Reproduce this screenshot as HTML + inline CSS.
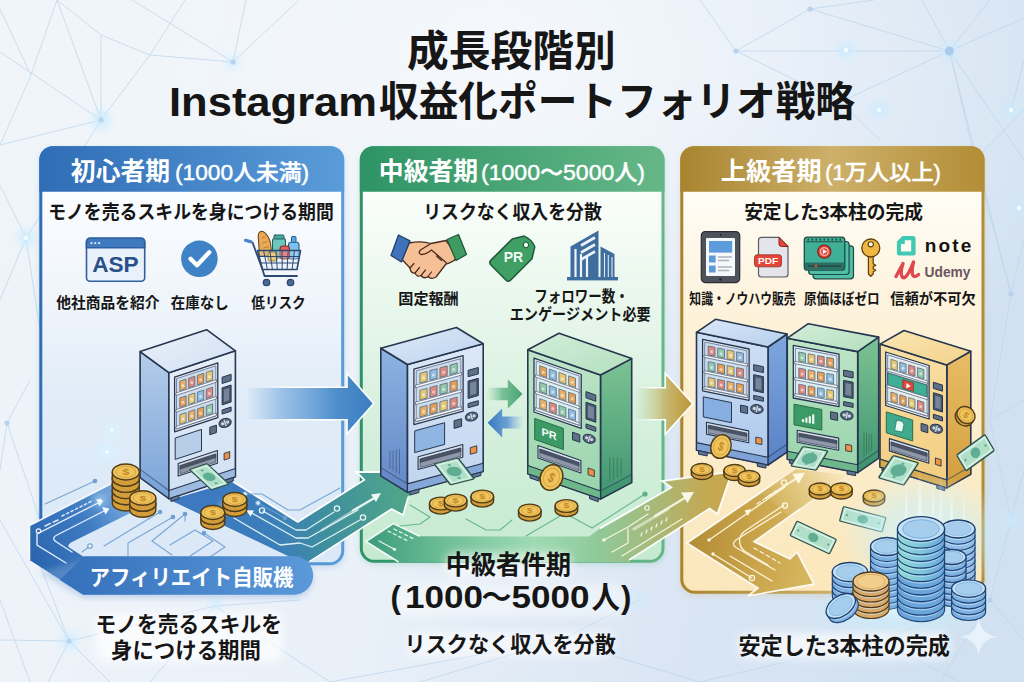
<!DOCTYPE html>
<html lang="ja"><head><meta charset="utf-8"><title>成長段階別 Instagram収益化ポートフォリオ戦略</title>
<style>
html,body{margin:0;padding:0;background:#e9f1f9;}
body{width:1024px;height:682px;overflow:hidden;font-family:"Liberation Sans","Noto Sans CJK JP",sans-serif;}
svg{display:block}
text{font-family:"Liberation Sans","Noto Sans CJK JP",sans-serif}
</style></head><body>
<svg width="1024" height="682" viewBox="0 0 1024 682">
<defs>
<linearGradient id="bg" x1="0" y1="0.2" x2="1" y2="0.35">
<stop offset="0" stop-color="#eff4f9"/><stop offset="0.45" stop-color="#e9f0f8"/><stop offset="0.75" stop-color="#dae6f4"/><stop offset="1" stop-color="#d1e1f1"/></linearGradient>
<radialGradient id="bgc" cx="0.5" cy="0.1" r="0.6"><stop offset="0" stop-color="#f6f9fc" stop-opacity="0.9"/><stop offset="1" stop-color="#f6f9fc" stop-opacity="0"/></radialGradient>
<linearGradient id="h1" x1="0" x2="1"><stop offset="0" stop-color="#2f6db6"/><stop offset="1" stop-color="#5a9cd9"/></linearGradient>
<linearGradient id="h2" x1="0" x2="1"><stop offset="0" stop-color="#2e9465"/><stop offset="1" stop-color="#66b788"/></linearGradient>
<linearGradient id="h3" x1="0" x2="1"><stop offset="0" stop-color="#a8842f"/><stop offset="0.5" stop-color="#cdb06a"/><stop offset="1" stop-color="#b38d36"/></linearGradient>
<linearGradient id="b1" x1="0" y1="0" x2="0" y2="1"><stop offset="0.1" stop-color="#fbfdff"/><stop offset="0.4" stop-color="#eef4fb"/><stop offset="0.6" stop-color="#e0ecf8"/><stop offset="1" stop-color="#dbe8f7"/></linearGradient>
<linearGradient id="b2" x1="0" y1="0" x2="0" y2="1"><stop offset="0.1" stop-color="#fbfefb"/><stop offset="0.42" stop-color="#e6f6ea"/><stop offset="0.7" stop-color="#d3efdb"/><stop offset="1" stop-color="#c6ead1"/></linearGradient>
<linearGradient id="b3" x1="0" y1="0" x2="0" y2="1"><stop offset="0.1" stop-color="#fffdf6"/><stop offset="0.4" stop-color="#fdf1d8"/><stop offset="1" stop-color="#fbe7bb"/></linearGradient>
<filter id="sh" x="-10%" y="-10%" width="120%" height="120%"><feGaussianBlur stdDeviation="3"/></filter>
<filter id="glow" x="-50%" y="-50%" width="200%" height="200%"><feGaussianBlur stdDeviation="4"/></filter>
<filter id="tglow" x="-10%" y="-30%" width="120%" height="160%"><feGaussianBlur stdDeviation="2.5"/></filter>

<linearGradient id="rb1" gradientUnits="userSpaceOnUse" x1="30" y1="560" x2="135" y2="490"><stop offset="0" stop-color="#2a64ae" stop-opacity="1"/><stop offset="0.55" stop-color="#3f7cc2" stop-opacity="1"/><stop offset="0.85" stop-color="#6fa3da" stop-opacity="1"/><stop offset="1" stop-color="#a9c9ea" stop-opacity="0.7"/></linearGradient>
<linearGradient id="rb2" gradientUnits="userSpaceOnUse" x1="205" y1="500" x2="400" y2="480"><stop offset="0" stop-color="#3c79c1" stop-opacity="1"/><stop offset="0.35" stop-color="#3b7fb9" stop-opacity="1"/><stop offset="0.6" stop-color="#3f8f9e" stop-opacity="1"/><stop offset="1" stop-color="#4ea58a" stop-opacity="1"/></linearGradient>
<linearGradient id="pill" gradientUnits="userSpaceOnUse" x1="70" y1="0" x2="313" y2="0"><stop offset="0" stop-color="#3671bc" stop-opacity="1"/><stop offset="1" stop-color="#5c99d9" stop-opacity="1"/></linearGradient>
<linearGradient id="rb3" gradientUnits="userSpaceOnUse" x1="366" y1="0" x2="740" y2="0"><stop offset="0" stop-color="#3a9a7c" stop-opacity="1"/><stop offset="0.2" stop-color="#6cbd95" stop-opacity="1"/><stop offset="0.45" stop-color="#9ad8b0" stop-opacity="0.9"/><stop offset="0.62" stop-color="#8fc99a" stop-opacity="1"/><stop offset="0.78" stop-color="#a9b877" stop-opacity="1"/><stop offset="0.9" stop-color="#c2aa55" stop-opacity="1"/><stop offset="1" stop-color="#c9a548" stop-opacity="1"/></linearGradient>
<radialGradient id="rb4" gradientUnits="userSpaceOnUse" cx="690" cy="543" r="175"><stop offset="0" stop-color="#b48d37"/><stop offset="0.4" stop-color="#c9a44a"/><stop offset="0.75" stop-color="#d8b963"/><stop offset="1" stop-color="#e8cf8c"/></radialGradient>
<linearGradient id="rb4f" gradientUnits="userSpaceOnUse" x1="770" y1="520" x2="850" y2="468"><stop offset="0" stop-color="#fcecc8" stop-opacity="0"/><stop offset="0.6" stop-color="#fcecc8" stop-opacity="0.45"/><stop offset="1" stop-color="#fcecc8" stop-opacity="0.95"/></linearGradient>
<linearGradient id="rb4s" gradientUnits="userSpaceOnUse" x1="760" y1="500" x2="850" y2="470"><stop offset="0" stop-color="#fff" stop-opacity="0.9"/><stop offset="1" stop-color="#fff" stop-opacity="0"/></linearGradient>
<linearGradient id="ar1" gradientUnits="userSpaceOnUse" x1="246" y1="0" x2="373.7" y2="0"><stop offset="0" stop-color="#7fb0e0" stop-opacity="0"/><stop offset="0.3" stop-color="#7fb0e0" stop-opacity="0.75"/><stop offset="0.7" stop-color="#4f8fcc" stop-opacity="1"/><stop offset="1" stop-color="#3a7cbf" stop-opacity="1"/></linearGradient>
<linearGradient id="ar1w" gradientUnits="userSpaceOnUse" x1="246" y1="0" x2="373.7" y2="0"><stop offset="0" stop-color="#fff" stop-opacity="0"/><stop offset="0.35" stop-color="#fff" stop-opacity="1"/><stop offset="1" stop-color="#fff" stop-opacity="1"/></linearGradient>
<linearGradient id="ar2" gradientUnits="userSpaceOnUse" x1="634" y1="0" x2="692.7" y2="0"><stop offset="0" stop-color="#c3dcae" stop-opacity="0"/><stop offset="0.3" stop-color="#c9d3a0" stop-opacity="0.8"/><stop offset="0.55" stop-color="#c6b872" stop-opacity="1"/><stop offset="0.78" stop-color="#c2a54e" stop-opacity="1"/><stop offset="1" stop-color="#ba933b" stop-opacity="1"/></linearGradient>
<linearGradient id="ar2w" gradientUnits="userSpaceOnUse" x1="634" y1="0" x2="692.7" y2="0"><stop offset="0" stop-color="#fff" stop-opacity="0"/><stop offset="0.35" stop-color="#fff" stop-opacity="1"/><stop offset="1" stop-color="#fff" stop-opacity="1"/></linearGradient>
<linearGradient id="ar3" gradientUnits="userSpaceOnUse" x1="486" y1="0" x2="522.5" y2="0"><stop offset="0" stop-color="#8fd0a8" stop-opacity="0"/><stop offset="0.45" stop-color="#6dbb8d" stop-opacity="0.9"/><stop offset="1" stop-color="#46a372" stop-opacity="1"/></linearGradient>
<linearGradient id="ar3w" gradientUnits="userSpaceOnUse" x1="486" y1="0" x2="522.5" y2="0"><stop offset="0" stop-color="#fff" stop-opacity="0"/><stop offset="0.35" stop-color="#fff" stop-opacity="1"/><stop offset="1" stop-color="#fff" stop-opacity="1"/></linearGradient>
<linearGradient id="ar4" gradientUnits="userSpaceOnUse" x1="523.7" y1="0" x2="487.6" y2="0"><stop offset="0" stop-color="#8db8e6" stop-opacity="0"/><stop offset="0.45" stop-color="#5f97d2" stop-opacity="0.9"/><stop offset="1" stop-color="#3877c0" stop-opacity="1"/></linearGradient>
<linearGradient id="ms1" x1="0" y1="0" x2="0" y2="1"><stop offset="0" stop-color="#b4cdea"/><stop offset="1" stop-color="#7ba3d8"/></linearGradient>
<linearGradient id="mf1" x1="0" y1="0" x2="0" y2="1"><stop offset="0" stop-color="#e7eff8"/><stop offset="1" stop-color="#d0e0f3"/></linearGradient>
<linearGradient id="mt1" x1="0" y1="0" x2="1" y2="1"><stop offset="0" stop-color="#ecf2fa"/><stop offset="1" stop-color="#cfdff2"/></linearGradient>
<linearGradient id="ms2" x1="0" y1="0" x2="0" y2="1"><stop offset="0" stop-color="#8db3e2"/><stop offset="1" stop-color="#6487c6"/></linearGradient>
<linearGradient id="mf2" x1="0" y1="0" x2="0" y2="1"><stop offset="0" stop-color="#dce8f7"/><stop offset="1" stop-color="#c0d4ef"/></linearGradient>
<linearGradient id="mt2" x1="0" y1="0" x2="1" y2="1"><stop offset="0" stop-color="#dfeaf8"/><stop offset="1" stop-color="#bcd3ef"/></linearGradient>
<linearGradient id="ms3" x1="0" y1="0" x2="0" y2="1"><stop offset="0" stop-color="#7cc393"/><stop offset="1" stop-color="#3f9470"/></linearGradient>
<linearGradient id="mf3" x1="0" y1="0" x2="0" y2="1"><stop offset="0" stop-color="#bfe5c9"/><stop offset="1" stop-color="#98d3ab"/></linearGradient>
<linearGradient id="mt3" x1="0" y1="0" x2="1" y2="1"><stop offset="0" stop-color="#d3eed9"/><stop offset="1" stop-color="#b3dfbf"/></linearGradient>
<linearGradient id="ms4" x1="0" y1="0" x2="0" y2="1"><stop offset="0" stop-color="#7ea6de"/><stop offset="1" stop-color="#5882c6"/></linearGradient>
<linearGradient id="mf4" x1="0" y1="0" x2="0" y2="1"><stop offset="0" stop-color="#cfdff4"/><stop offset="1" stop-color="#adc8ec"/></linearGradient>
<linearGradient id="mt4" x1="0" y1="0" x2="1" y2="1"><stop offset="0" stop-color="#dbe8f7"/><stop offset="1" stop-color="#b5cfee"/></linearGradient>
<linearGradient id="ms5" x1="0" y1="0" x2="0" y2="1"><stop offset="0" stop-color="#7cc393"/><stop offset="1" stop-color="#3f9470"/></linearGradient>
<linearGradient id="mf5" x1="0" y1="0" x2="0" y2="1"><stop offset="0" stop-color="#bfe5c9"/><stop offset="1" stop-color="#98d3ab"/></linearGradient>
<linearGradient id="mt5" x1="0" y1="0" x2="1" y2="1"><stop offset="0" stop-color="#d3eed9"/><stop offset="1" stop-color="#b3dfbf"/></linearGradient>
<linearGradient id="ms6" x1="0" y1="0" x2="0" y2="1"><stop offset="0" stop-color="#e8bd66"/><stop offset="1" stop-color="#d39e3e"/></linearGradient>
<linearGradient id="mf6" x1="0" y1="0" x2="0" y2="1"><stop offset="0" stop-color="#f8dfa3"/><stop offset="1" stop-color="#f2cd80"/></linearGradient>
<linearGradient id="mt6" x1="0" y1="0" x2="1" y2="1"><stop offset="0" stop-color="#fbe6b4"/><stop offset="1" stop-color="#f3d28b"/></linearGradient>
<radialGradient id="cg" cx="0.5" cy="0.5" r="0.5"><stop offset="0" stop-color="#dff8ff" stop-opacity="0.95"/><stop offset="0.5" stop-color="#c8f0fb" stop-opacity="0.55"/><stop offset="1" stop-color="#c8f0fb" stop-opacity="0"/></radialGradient>
<linearGradient id="ray" x1="0" y1="0" x2="0" y2="1"><stop offset="0" stop-color="#fff" stop-opacity="0"/><stop offset="1" stop-color="#e8fbff" stop-opacity="0.85"/></linearGradient>
<linearGradient id="tealedge" x1="0" x2="1"><stop offset="0" stop-color="#93dcd2"/><stop offset="0.45" stop-color="#80c8dc"/><stop offset="1" stop-color="#6aa5dc"/></linearGradient>
</defs>
<rect width="1024" height="682" fill="url(#bg)"/>
<rect width="1024" height="682" fill="url(#bgc)"/>
<g stroke="#bdd5ec" stroke-width="1" opacity="0.75" fill="none">
<line x1="0" y1="52" x2="101" y2="120"/>
<line x1="101" y1="120" x2="57" y2="0"/>
<line x1="101" y1="120" x2="101" y2="35"/>
<line x1="101" y1="35" x2="150" y2="55"/>
<line x1="150" y1="55" x2="233" y2="62"/>
<line x1="150" y1="55" x2="185" y2="0"/>
<line x1="150" y1="55" x2="101" y2="120"/>
<line x1="233" y1="62" x2="132" y2="0"/>
<line x1="233" y1="62" x2="246" y2="0"/>
<line x1="233" y1="62" x2="299" y2="0"/>
<line x1="101" y1="120" x2="0" y2="145"/>
<line x1="101" y1="120" x2="26" y2="238"/>
<line x1="26" y1="238" x2="0" y2="185"/>
<line x1="26" y1="238" x2="0" y2="300"/>
<line x1="31" y1="75" x2="0" y2="9"/>
<line x1="57" y1="0" x2="31" y2="75"/>
<line x1="31" y1="75" x2="0" y2="145"/>
<line x1="101" y1="35" x2="57" y2="0"/>
<line x1="26" y1="238" x2="40" y2="330"/>
<line x1="949.5" y1="51" x2="736" y2="51"/>
<line x1="949.5" y1="51" x2="810" y2="9"/>
<line x1="810" y1="9" x2="736" y2="51"/>
<line x1="810" y1="9" x2="874" y2="0"/>
<line x1="949.5" y1="51" x2="840" y2="102"/>
<line x1="840" y1="102" x2="736" y2="51"/>
<line x1="949.5" y1="51" x2="922" y2="0"/>
<line x1="949.5" y1="51" x2="990" y2="0"/>
<line x1="949.5" y1="51" x2="1024" y2="18"/>
<line x1="949.5" y1="51" x2="1024" y2="160"/>
<line x1="949.5" y1="51" x2="1011" y2="294"/>
<line x1="949.5" y1="51" x2="975" y2="160"/>
<line x1="975" y1="160" x2="1024" y2="110"/>
<line x1="975" y1="160" x2="1011" y2="294"/>
<line x1="1011" y1="294" x2="1024" y2="240"/>
<line x1="736" y1="51" x2="700" y2="0"/>
<line x1="840" y1="102" x2="880" y2="140"/>
<line x1="1011" y1="110" x2="1024" y2="60"/>
<line x1="7" y1="423" x2="40" y2="520"/>
<line x1="7" y1="423" x2="0" y2="470"/>
<line x1="7" y1="423" x2="30" y2="380"/>
<line x1="69" y1="641" x2="0" y2="520"/>
<line x1="69" y1="641" x2="0" y2="640"/>
<line x1="69" y1="641" x2="48" y2="682"/>
<line x1="69" y1="641" x2="110" y2="682"/>
<line x1="69" y1="641" x2="215" y2="606"/>
<line x1="215" y1="606" x2="150" y2="682"/>
<line x1="215" y1="606" x2="330" y2="682"/>
<line x1="215" y1="606" x2="300" y2="600"/>
<line x1="0" y1="600" x2="30" y2="682"/>
<line x1="69" y1="641" x2="40" y2="565"/>
<line x1="1011" y1="520" x2="1024" y2="470"/>
<line x1="1011" y1="520" x2="990" y2="600"/>
<line x1="990" y1="600" x2="1024" y2="640"/>
<line x1="990" y1="600" x2="940" y2="682"/>
<line x1="990" y1="600" x2="880" y2="640"/>
<line x1="880" y1="640" x2="700" y2="682"/>
<line x1="880" y1="640" x2="960" y2="682"/>
<line x1="1011" y1="294" x2="990" y2="420"/>
<line x1="990" y1="420" x2="1024" y2="400"/>
<line x1="990" y1="420" x2="1011" y2="520"/>
<line x1="560" y1="640" x2="420" y2="682"/>
<line x1="560" y1="640" x2="700" y2="682"/>
<line x1="560" y1="640" x2="330" y2="682"/>
<line x1="560" y1="640" x2="640" y2="600"/>
</g>
<circle cx="101" cy="120" r="9" fill="#c9ecff" opacity="0.85" filter="url(#glow)"/>
<circle cx="233" cy="62" r="6" fill="#c9ecff" opacity="0.85" filter="url(#glow)"/>
<circle cx="26" cy="238" r="8" fill="#c9ecff" opacity="0.85" filter="url(#glow)"/>
<circle cx="949.5" cy="51" r="7" fill="#c9ecff" opacity="0.85" filter="url(#glow)"/>
<circle cx="846" cy="50" r="8" fill="#c9ecff" opacity="0.85" filter="url(#glow)"/>
<circle cx="879" cy="110" r="8" fill="#c9ecff" opacity="0.85" filter="url(#glow)"/>
<circle cx="1011" cy="110" r="7" fill="#c9ecff" opacity="0.85" filter="url(#glow)"/>
<circle cx="1019" cy="208" r="7" fill="#c9ecff" opacity="0.85" filter="url(#glow)"/>
<circle cx="69" cy="641" r="8" fill="#c9ecff" opacity="0.85" filter="url(#glow)"/>
<circle cx="215" cy="606" r="6" fill="#c9ecff" opacity="0.85" filter="url(#glow)"/>
<circle cx="1011" cy="520" r="7" fill="#c9ecff" opacity="0.85" filter="url(#glow)"/>
<circle cx="640" cy="600" r="5" fill="#c9ecff" opacity="0.85" filter="url(#glow)"/>
<circle cx="101" cy="120" r="2.6" fill="#b7d3ee"/>
<circle cx="233" cy="62" r="2.6" fill="#b7d3ee"/>
<circle cx="736" cy="51" r="2.6" fill="#b7d3ee"/>
<circle cx="810" cy="9" r="2.6" fill="#b7d3ee"/>
<circle cx="1011" cy="294" r="2.6" fill="#b7d3ee"/>
<circle cx="7" cy="423" r="2.6" fill="#b7d3ee"/>
<circle cx="69" cy="641" r="2.6" fill="#b7d3ee"/>
<circle cx="990" cy="600" r="2.6" fill="#b7d3ee"/>
<circle cx="949.5" cy="51" r="4.5" fill="#abcbec"/>
<circle cx="846" cy="50" r="2.2" fill="#f4fbff"/>
<circle cx="879" cy="110" r="2.2" fill="#f4fbff"/>
<circle cx="1011" cy="110" r="2.2" fill="#f4fbff"/>
<circle cx="1019" cy="208" r="2.2" fill="#f4fbff"/>
<circle cx="26" cy="238" r="2.2" fill="#f4fbff"/>
<rect x="39.8" y="148.8" width="303.9" height="418" rx="13" fill="#4f8bcc" opacity="0.25" filter="url(#sh)"/>
<rect x="40.8" y="147.8" width="301.9" height="416" rx="13" fill="url(#b1)" stroke="url(#h1)" stroke-width="3"/>
<path d="M39.35,191.8 v-31 a13,13 0 0 1 13,-14.45 h278.8 a13,13 0 0 1 13,14.45 v31 z" fill="url(#h1)"/>
<rect x="360.3" y="148.8" width="303.7" height="415.5" rx="13" fill="#58ab82" opacity="0.25" filter="url(#sh)"/>
<rect x="361.3" y="147.8" width="301.7" height="413.5" rx="13" fill="url(#b2)" stroke="url(#h2)" stroke-width="3"/>
<path d="M359.85,191.8 v-31 a13,13 0 0 1 13,-14.45 h278.6 a13,13 0 0 1 13,14.45 v31 z" fill="url(#h2)"/>
<rect x="680.8" y="148.8" width="303.2" height="446.5" rx="13" fill="#c9a34e" opacity="0.25" filter="url(#sh)"/>
<rect x="681.8" y="147.8" width="301.2" height="444.5" rx="13" fill="url(#b3)" stroke="url(#h3)" stroke-width="3"/>
<path d="M680.35,191.8 v-31 a13,13 0 0 1 13,-14.45 h278.1 a13,13 0 0 1 13,14.45 v31 z" fill="url(#h3)"/>
<path d="M29.5,525.5 L111.5,483.5 L150,498 L134.5,511 L71,542.5 Q66,545.5 70,548 L84,557 L130,557 L130,594.2 L83,594.2 L29.5,560 Z" fill="url(#rb1)"/>
<path d="M29.5,560 V525.5 L111.5,483.5" fill="none" stroke="#fff" stroke-width="1.6" opacity="0.9"/>
<path d="M170,500 L232.7,481.4 L297.8,521.9 L364.3,479.9 L356.4,472 L381,472 L420,478 L408.3,496.6 L403,515 L391.6,509 L309.4,561.7 L300,561.7 Z" fill="url(#rb2)"/>
<path d="M232.7,481.4 L297.8,521.9 L364.3,479.9 L356.4,472 L381,472" fill="none" stroke="#fff" stroke-width="1.8" stroke-linejoin="miter"/>
<path d="M408.3,496.6 L403,515 L391.6,509 L309.4,561.7" fill="none" stroke="#fff" stroke-width="1.6"/>
<g fill="none" stroke="#eaf4ff" stroke-width="1.4" stroke-linecap="round" opacity="0.95">
<path d="M66,563 L37,545 V534 L98,503"/>
<path d="M72,552 L55,541 Q52,538 56,535.5 L104,511"/>
<path d="M45,526 L58,520" stroke-dasharray="6 3"/><path d="M62,516 L92,501" stroke-dasharray="2.5 2.5"/>
</g>
<polygon points="96,499 103.5,500.5 99.5,506.5" fill="#f2f8ff"/><polygon points="102,507 109.5,508.5 105.5,514.5" fill="#f2f8ff"/>
<circle cx="38.5" cy="531" r="2.2" fill="none" stroke="#eaf4ff" stroke-width="1.2"/>
<g fill="none" stroke="#6f9fd0" stroke-width="1.1" stroke-linecap="round" stroke-linejoin="round" opacity="0.9">
<path d="M45,504 L95,481"/><path d="M82,552 L90,546"/>
<path d="M104,546 L160,512"/><path d="M128,557 V543 L173,517"/><path d="M152,541 L185,514 V521"/><path d="M152,541 L172,555"/>
<path d="M170,545 L195,530 L213,541 L190,556"/><path d="M210,557 L225,547 L204,533"/>
<path d="M245,494 H262 L288,510 H300 L340,488"/><path d="M258,503 L285,518"/>
</g>
<circle cx="95" cy="481" r="2.3" fill="#6f9fd0"/>
<circle cx="160" cy="512" r="2.3" fill="#6f9fd0"/>
<circle cx="173" cy="517" r="2.3" fill="#6f9fd0"/>
<circle cx="185" cy="514" r="2.3" fill="#6f9fd0"/>
<circle cx="204" cy="533" r="2.3" fill="#6f9fd0"/>
<circle cx="285" cy="518" r="2.3" fill="#6f9fd0"/>
<circle cx="90" cy="546" r="2.3" fill="#e6f0fb" stroke="#6f9fd0" stroke-width="1.1"/>
<circle cx="245" cy="494" r="2.3" fill="#e6f0fb" stroke="#6f9fd0" stroke-width="1.1"/>
<circle cx="258" cy="503" r="2.3" fill="#e6f0fb" stroke="#6f9fd0" stroke-width="1.1"/>
<g fill="none" stroke="#e8f6f4" stroke-width="1.3" stroke-linecap="round" stroke-linejoin="round" opacity="0.95">
<path d="M263,511 L296,530 H306 L334,512"/>
<path d="M250,512 L296,538 H308 L358,510"/>
<path d="M234,518 L280,545 L300,543 L312,547 L360,520"/>
<path d="M322,530 L376,497" stroke-width="2.6" opacity="0.55"/>
</g>
<polygon points="246,510 254,510.5 250.5,516.5" fill="#eef9f6"/>
<polygon points="381,493 371,494.5 376,502" fill="#eef9f6"/><path d="M352,511 L376,497" stroke="#eef9f6" stroke-width="2"/>
<circle cx="262" cy="510.5" r="2.6" fill="none" stroke="#e8f6f4" stroke-width="1.3"/>
<circle cx="337" cy="508.5" r="2.6" fill="none" stroke="#e8f6f4" stroke-width="1.3"/>
<circle cx="363" cy="517.5" r="2.6" fill="none" stroke="#e8f6f4" stroke-width="1.3"/>
<path d="M84,560 H294 a18.7,18.7 0 0 1 0,37.4 H83 L40,572 Z" fill="#7fa8d8" opacity="0.45" filter="url(#sh)"/>
<path d="M84,556.3 H294 a19.2,19.2 0 0 1 0,38.4 H83 L60,580 Z" fill="url(#pill)"/>
<path d="M366,541.5 L393.3,523.5 L419.7,536.2 L589,536.6 L600,528.4 L671.3,487.5 L662,481 L732,471.7 L717.5,514 L709.6,508.6 L629,560 L630,562 L398.6,562 Z" fill="url(#rb3)"/>
<path d="M600,528.4 L671.3,487.5 L662,481 L732,471.7 L717.5,514 L709.6,508.6 L629,560" fill="none" stroke="#fff" stroke-width="1.8" opacity="0.95"/>
<path d="M398.6,562 L366,541.5 L393.3,523.5 L419.7,536.2" fill="none" stroke="#fff" stroke-width="1.5" opacity="0.9"/>
<g fill="none" stroke="#5fb088" stroke-width="1.1" stroke-linecap="round" stroke-linejoin="round" opacity="0.9">
<path d="M410,505 L430,517 L420,524 L400,526"/><path d="M466,519 L486,530 H500 L512,520"/><path d="M526,536 L560,516"/><path d="M570,516 L592,528 L645,494"/>
</g>
<circle cx="645" cy="494" r="2.6" fill="#5fb088"/>
<g fill="none" stroke="#eafaf0" stroke-width="1.3" stroke-linecap="round" opacity="0.95">
<path d="M388,531 L408,541" stroke-dasharray="3 3"/><path d="M394,529 L414,539" stroke-dasharray="3 3"/><path d="M379,541 L394,549"/>
</g><circle cx="394.5" cy="549.3" r="1.6" fill="#eafaf0"/>
<g fill="none" stroke="#f6f7e6" stroke-width="1.3" stroke-linecap="round" stroke-linejoin="round" opacity="0.95">
<path d="M604,540 L628,527 L648,514"/><path d="M612,552 L628,543 V529"/><path d="M622,556 L682,519"/><path d="M634,529 L668,509" stroke-width="3" opacity="0.6"/>
<path d="M641,536 l1,-3 M646,533 l1,-3 M651,530 l1,-3 M656,527 l1,-3 M661,524 l1,-3 M666,521 l1,-3"/>
<path d="M655,516 L688,496" stroke-width="2.2"/>
</g>
<polygon points="694,492 681,492.5 687.5,503" fill="#f8f8ea"/>
<circle cx="604" cy="540" r="1.8" fill="#f6f7e6"/><circle cx="647" cy="508" r="2.2" fill="none" stroke="#f6f7e6" stroke-width="1.1"/>
<path d="M687,543 L795,469 L848,475 L754,541.6 L790,559 L797,552 L814,584 L748,596 L758,588 Z" fill="url(#rb4)"/>
<path d="M760,492 L795,468 L850,474 L790,517 Z" fill="url(#rb4f)"/>
<path d="M770,486 L687,543 L758,588 L748,596 L814,584 L797,552 L790,559 L754,541.6 L800,509" fill="none" stroke="#fff" stroke-width="1.7" opacity="0.9" stroke-linejoin="miter"/>
<path d="M770,486 L795,469 M800,509 L848,475" fill="none" stroke="url(#rb4s)" stroke-width="1.7"/>
<g fill="none" stroke="#fff8e4" stroke-width="1.3" stroke-linecap="round" stroke-linejoin="round" opacity="0.95">
<path d="M709,540 L785,487"/>
<path d="M713,554 L752,578"/>
<path d="M781,512 L736,540 Q731,544 736,547.5 L775,570"/>
<path d="M784,505 L745,531 Q738,536 740,544 Q741,549 746,552 L768,565" />
<path d="M730,556 L772,581" stroke-dasharray="0"/>
<path d="M757,504 L776,491" stroke-dasharray="4 3"/><path d="M754,548 L780,563" stroke-dasharray="4 3"/>
<path d="M766,498 L797,478" stroke-width="2"/>
</g>
<polygon points="805,472.5 792.5,474 798.5,484" fill="#fff8e4"/>
<polygon points="751,509 744.5,510.5 748,516" fill="#fff8e4"/>
<circle cx="784" cy="482.5" r="2.6" fill="none" stroke="#fff8e4" stroke-width="1.2"/>
<circle cx="785" cy="505.5" r="2.6" fill="none" stroke="#fff8e4" stroke-width="1.2"/>
<circle cx="752" cy="578" r="2.6" fill="none" stroke="#fff8e4" stroke-width="1.2"/>
<circle cx="709" cy="540" r="1.7" fill="#fff8e4"/>
<circle cx="713" cy="554" r="1.7" fill="#fff8e4"/>
<path d="M246,387.3 H347 V373.2 L373.7,403.5 L347,433.8 V419.7 H246" fill="url(#ar1)" stroke="url(#ar1w)" stroke-width="1.6" stroke-linejoin="miter"/>
<path d="M634,387.7 H665.3 V373.2 L692.7,403.7 L665.3,434.2 V419.7 H634" fill="url(#ar2)" stroke="url(#ar2w)" stroke-width="1.6" stroke-linejoin="miter"/>
<path d="M486,387.8 H507.8 V379.4 L522.5,394 L507.8,408.6 V400.2 H486" fill="url(#ar3)" stroke="url(#ar3w)" stroke-width="0" stroke-linejoin="miter"/>
<path d="M523.7,416.4 H502.2 V408.6 L487.6,422.8 L502.2,437.4 V428.6 H523.7 Z" fill="url(#ar4)"/>
<circle cx="112" cy="430" r="7" fill="#d8f3ff" opacity="0.9" filter="url(#glow)"/>
<circle cx="112" cy="430" r="1.6" fill="#fff" opacity="0.9"/>
<circle cx="107" cy="452" r="9" fill="#d8f3ff" opacity="0.9" filter="url(#glow)"/>
<circle cx="107" cy="452" r="1.6" fill="#fff" opacity="0.9"/>
<circle cx="143" cy="462" r="5" fill="#d8f3ff" opacity="0.8" filter="url(#glow)"/>
<circle cx="143" cy="462" r="1.6" fill="#fff" opacity="0.9"/>
<circle cx="100" cy="500" r="6" fill="#d8f3ff" opacity="0.6" filter="url(#glow)"/>
<circle cx="100" cy="500" r="1.6" fill="#fff" opacity="0.9"/>
<circle cx="226" cy="507" r="5" fill="#d8f3ff" opacity="0.8" filter="url(#glow)"/>
<circle cx="226" cy="507" r="1.6" fill="#fff" opacity="0.9"/>
<polygon points="168.9,372.7 140.1,351.6 140.1,477.6 168.9,498.7" fill="url(#ms1)" stroke="#27364f" stroke-width="1.6" stroke-linejoin="round"/>
<polygon points="168.9,372.7 235.4,350.8 235.4,476.8 168.9,498.7" fill="url(#mf1)" stroke="#27364f" stroke-width="1.6" stroke-linejoin="round"/>
<polygon points="168.9,372.7 235.4,350.8 206.6,329.7 140.1,351.6" fill="url(#mt1)" stroke="#27364f" stroke-width="1.6" stroke-linejoin="round"/>
<polygon points="168.9,490.5 235.4,468.6 235.4,476.8 168.9,498.7" fill="#9dbbe0" stroke="#27364f" stroke-width="1.1" stroke-linejoin="round"/>
<polygon points="168.9,490.5 140.1,469.4 140.1,477.6 168.9,498.7" fill="#7ba3d8" opacity="0.55" stroke="#27364f" stroke-width="1.1" stroke-linejoin="round"/>
<polygon points="170.9,498.0 178.9,495.4 178.9,498.9 170.9,501.5" fill="#5d7596" stroke="#27364f" stroke-width="1"/>
<polygon points="225.4,480.1 233.4,477.5 233.4,481.0 225.4,483.6" fill="#5d7596" stroke="#27364f" stroke-width="1"/>
<polygon points="174.6,377.1 217.8,362.9 217.8,417.7 174.6,431.9" fill="#e9eef5" stroke="#27364f" stroke-width="1.3" stroke-linejoin="round"/>
<polygon points="176.5,378.7 215.8,365.8 215.8,416.1 176.5,429.0" fill="#cddcec" stroke="#5b6f8c" stroke-width="0.8" stroke-linejoin="round"/>
<polygon points="179.8,381.2 186.1,379.1 186.1,388.6 179.8,390.7" fill="#e8b066" stroke="#4b5a70" stroke-width="0.7" stroke-linejoin="round"/>
<circle cx="182.9" cy="385.5" r="1.5" fill="#fff" opacity="0.55"/>
<polygon points="188.6,378.3 194.9,376.2 194.9,385.7 188.6,387.8" fill="#dc8a80" stroke="#4b5a70" stroke-width="0.7" stroke-linejoin="round"/>
<circle cx="191.8" cy="382.6" r="1.5" fill="#fff" opacity="0.55"/>
<polygon points="197.4,375.4 203.7,373.3 203.7,382.8 197.4,384.9" fill="#e39f56" stroke="#4b5a70" stroke-width="0.7" stroke-linejoin="round"/>
<circle cx="200.6" cy="379.7" r="1.5" fill="#fff" opacity="0.55"/>
<polygon points="206.2,372.5 212.6,370.4 212.6,379.9 206.2,382.0" fill="#e6c874" stroke="#4b5a70" stroke-width="0.7" stroke-linejoin="round"/>
<circle cx="209.4" cy="376.8" r="1.5" fill="#fff" opacity="0.55"/>
<polygon points="175.9,393.0 216.4,379.6 216.4,382.1 175.9,395.5" fill="#f7f9fb" stroke="#4b5a70" stroke-width="0.7" stroke-linejoin="round"/>
<polygon points="179.8,398.0 186.1,395.9 186.1,405.3 179.8,407.4" fill="#e39f56" stroke="#4b5a70" stroke-width="0.7" stroke-linejoin="round"/>
<circle cx="182.9" cy="402.3" r="1.5" fill="#fff" opacity="0.55"/>
<polygon points="188.6,395.1 194.9,393.0 194.9,402.4 188.6,404.5" fill="#e6c874" stroke="#4b5a70" stroke-width="0.7" stroke-linejoin="round"/>
<circle cx="191.8" cy="399.4" r="1.5" fill="#fff" opacity="0.55"/>
<polygon points="197.4,392.2 203.7,390.1 203.7,399.5 197.4,401.6" fill="#92bede" stroke="#4b5a70" stroke-width="0.7" stroke-linejoin="round"/>
<circle cx="200.6" cy="396.5" r="1.5" fill="#fff" opacity="0.55"/>
<polygon points="206.2,389.3 212.6,387.2 212.6,396.6 206.2,398.7" fill="#dc8a80" stroke="#4b5a70" stroke-width="0.7" stroke-linejoin="round"/>
<circle cx="209.4" cy="393.6" r="1.5" fill="#fff" opacity="0.55"/>
<polygon points="175.9,409.7 216.4,396.4 216.4,398.9 175.9,412.2" fill="#f7f9fb" stroke="#4b5a70" stroke-width="0.7" stroke-linejoin="round"/>
<polygon points="179.8,414.7 186.1,412.6 186.1,422.1 179.8,424.2" fill="#e6c874" stroke="#4b5a70" stroke-width="0.7" stroke-linejoin="round"/>
<circle cx="182.9" cy="419.0" r="1.5" fill="#fff" opacity="0.55"/>
<polygon points="188.6,411.8 194.9,409.7 194.9,419.2 188.6,421.3" fill="#e8b066" stroke="#4b5a70" stroke-width="0.7" stroke-linejoin="round"/>
<circle cx="191.8" cy="416.1" r="1.5" fill="#fff" opacity="0.55"/>
<polygon points="197.4,408.9 203.7,406.8 203.7,416.3 197.4,418.4" fill="#e39f56" stroke="#4b5a70" stroke-width="0.7" stroke-linejoin="round"/>
<circle cx="200.6" cy="413.2" r="1.5" fill="#fff" opacity="0.55"/>
<polygon points="206.2,406.0 212.6,403.9 212.6,413.4 206.2,415.5" fill="#94c8aa" stroke="#4b5a70" stroke-width="0.7" stroke-linejoin="round"/>
<circle cx="209.4" cy="410.3" r="1.5" fill="#fff" opacity="0.55"/>
<polygon points="175.9,426.5 216.4,413.1 216.4,415.6 175.9,429.0" fill="#f7f9fb" stroke="#4b5a70" stroke-width="0.7" stroke-linejoin="round"/>
<polygon points="222.1,377.2 231.1,374.3 231.1,380.6 222.1,383.5" fill="#5f6f86" stroke="#27364f" stroke-width="1" stroke-linejoin="round" />
<polygon points="222.1,387.9 231.1,385.0 231.1,402.0 222.1,404.9" fill="#4d5b70" stroke="#27364f" stroke-width="1" stroke-linejoin="round" />
<polygon points="223.4,389.4 229.7,387.3 229.7,400.5 223.4,402.6" fill="#77859a" stroke="#27364f" stroke-width="0.5" stroke-linejoin="round" />
<polygon points="222.1,410.0 231.1,407.0 231.1,411.2 222.1,414.1" fill="#5f6f86" stroke="#27364f" stroke-width="1" stroke-linejoin="round" />
<g transform="translate(225.1,422.9) rotate(-18.2)"><ellipse rx="6.3" ry="4.3" fill="#5a687d" stroke="#27364f" stroke-width="1"/><ellipse cx="-2.6" rx="1.6" ry="1.5" fill="#cfd8e3"/><ellipse cx="2.6" rx="1.6" ry="1.5" fill="#cfd8e3"/><rect x="-0.7" y="-3.2" width="1.4" height="6.4" fill="#cfd8e3"/></g>
<polygon points="209.8,427.3 216.4,425.1 216.4,432.6 209.8,434.8" fill="#5f6f86" stroke="#27364f" stroke-width="1" stroke-linejoin="round" />
<polygon points="224.1,453.4 229.7,451.6 229.7,458.2 224.1,460.1" fill="#f0923e" stroke="#27364f" stroke-width="0.9" stroke-linejoin="round" />
<polygon points="175.2,438.0 201.5,429.4 201.5,450.8 175.2,459.4" fill="#b7cde8" stroke="#27364f" stroke-width="1" stroke-linejoin="round"/>
<polygon points="178.2,463.5 217.4,450.6 217.4,463.2 178.2,476.1" fill="#d9dfe8" stroke="#27364f" stroke-width="1.1" stroke-linejoin="round" />
<polygon points="179.9,465.7 215.8,453.9 215.8,462.2 179.9,474.0" fill="#8e98a8" stroke="#27364f" stroke-width="0.6" stroke-linejoin="round" />
<polygon points="179.9,465.7 215.8,453.9 215.8,457.4 179.9,469.3" fill="#4a5466" stroke="#27364f" stroke-width="0.4" stroke-linejoin="round" />
<g transform="matrix(0.7333 0.6800 -0.9778 0.3278 207.00 463.60)"><rect x="0" y="0" width="30" height="18" rx="1.2" fill="#b2dfca" stroke="#2b4f4a" stroke-width="1.25"/><rect x="2.2" y="2.2" width="25.6" height="13.6" rx="0.8" fill="none" stroke="#e6f6ec" stroke-width="1.1"/><ellipse cx="15" cy="9" rx="5.4" ry="5.0" fill="#5fae93"/><circle cx="5.5" cy="9" r="1.3" fill="#5fae93"/><circle cx="24.5" cy="9" r="1.3" fill="#5fae93"/></g>
<g transform="rotate(0.0 125.8 472.0)">
<path d="M112.3,496.8 v6.2 a13.5,8.0 0 0 0 27.0,0 v-6.2 z" fill="#d39d39" stroke="#4f3c1a" stroke-width="1.4" stroke-linejoin="round"/>
<ellipse cx="125.8" cy="496.8" rx="13.5" ry="8.0" fill="#f0c45c" stroke="#4f3c1a" stroke-width="1.4"/>
<path d="M112.3,490.6 v6.2 a13.5,8.0 0 0 0 27.0,0 v-6.2 z" fill="#d39d39" stroke="#4f3c1a" stroke-width="1.4" stroke-linejoin="round"/>
<ellipse cx="125.8" cy="490.6" rx="13.5" ry="8.0" fill="#f0c45c" stroke="#4f3c1a" stroke-width="1.4"/>
<path d="M112.3,484.4 v6.2 a13.5,8.0 0 0 0 27.0,0 v-6.2 z" fill="#d39d39" stroke="#4f3c1a" stroke-width="1.4" stroke-linejoin="round"/>
<ellipse cx="125.8" cy="484.4" rx="13.5" ry="8.0" fill="#f0c45c" stroke="#4f3c1a" stroke-width="1.4"/>
<path d="M112.3,478.2 v6.2 a13.5,8.0 0 0 0 27.0,0 v-6.2 z" fill="#d39d39" stroke="#4f3c1a" stroke-width="1.4" stroke-linejoin="round"/>
<ellipse cx="125.8" cy="478.2" rx="13.5" ry="8.0" fill="#f0c45c" stroke="#4f3c1a" stroke-width="1.4"/>
<path d="M112.3,472.0 v6.2 a13.5,8.0 0 0 0 27.0,0 v-6.2 z" fill="#d39d39" stroke="#4f3c1a" stroke-width="1.4" stroke-linejoin="round"/>
<ellipse cx="125.8" cy="472.0" rx="13.5" ry="8.0" fill="#f0c45c" stroke="#4f3c1a" stroke-width="1.4"/>
<ellipse cx="125.8" cy="472.0" rx="9.7" ry="5.8" fill="none" stroke="#d39d39" stroke-width="0.9" opacity="0.9"/>
<text x="125.8" y="476.5" font-size="12.8" fill="#c48a25" font-weight="700" text-anchor="middle" transform="translate(125.8 472.0) scale(1 0.68) translate(-125.8 -472.0)">$</text>
</g>
<g transform="rotate(0.0 142.8 498.0)">
<path d="M129.8,504.0 v6.0 a13.0,7.3 0 0 0 26.0,0 v-6.0 z" fill="#d39d39" stroke="#4f3c1a" stroke-width="1.4" stroke-linejoin="round"/>
<ellipse cx="142.8" cy="504.0" rx="13.0" ry="7.3" fill="#f0c45c" stroke="#4f3c1a" stroke-width="1.4"/>
<path d="M129.8,498.0 v6.0 a13.0,7.3 0 0 0 26.0,0 v-6.0 z" fill="#d39d39" stroke="#4f3c1a" stroke-width="1.4" stroke-linejoin="round"/>
<ellipse cx="142.8" cy="498.0" rx="13.0" ry="7.3" fill="#f0c45c" stroke="#4f3c1a" stroke-width="1.4"/>
<ellipse cx="142.8" cy="498.0" rx="9.4" ry="5.3" fill="none" stroke="#d39d39" stroke-width="0.9" opacity="0.9"/>
<text x="142.8" y="502.3" font-size="12.3" fill="#c48a25" font-weight="700" text-anchor="middle" transform="translate(142.8 498.0) scale(1 0.65) translate(-142.8 -498.0)">$</text>
</g>
<g transform="rotate(0.0 234.8 499.5)">
<path d="M222.8,504.5 v5.0 a12.0,7.0 0 0 0 24.0,0 v-5.0 z" fill="#d39d39" stroke="#4f3c1a" stroke-width="1.4" stroke-linejoin="round"/>
<ellipse cx="234.8" cy="504.5" rx="12.0" ry="7.0" fill="#f0c45c" stroke="#4f3c1a" stroke-width="1.4"/>
<path d="M222.8,499.5 v5.0 a12.0,7.0 0 0 0 24.0,0 v-5.0 z" fill="#d39d39" stroke="#4f3c1a" stroke-width="1.4" stroke-linejoin="round"/>
<ellipse cx="234.8" cy="499.5" rx="12.0" ry="7.0" fill="#f0c45c" stroke="#4f3c1a" stroke-width="1.4"/>
<ellipse cx="234.8" cy="499.5" rx="8.6" ry="5.0" fill="none" stroke="#d39d39" stroke-width="0.9" opacity="0.9"/>
<text x="234.8" y="503.5" font-size="11.4" fill="#c48a25" font-weight="700" text-anchor="middle" transform="translate(234.8 499.5) scale(1 0.67) translate(-234.8 -499.5)">$</text>
</g>
<g transform="rotate(0.0 212.8 512.5)">
<path d="M200.8,517.5 v5.0 a12.0,7.0 0 0 0 24.0,0 v-5.0 z" fill="#d39d39" stroke="#4f3c1a" stroke-width="1.4" stroke-linejoin="round"/>
<ellipse cx="212.8" cy="517.5" rx="12.0" ry="7.0" fill="#f0c45c" stroke="#4f3c1a" stroke-width="1.4"/>
<path d="M200.8,512.5 v5.0 a12.0,7.0 0 0 0 24.0,0 v-5.0 z" fill="#d39d39" stroke="#4f3c1a" stroke-width="1.4" stroke-linejoin="round"/>
<ellipse cx="212.8" cy="512.5" rx="12.0" ry="7.0" fill="#f0c45c" stroke="#4f3c1a" stroke-width="1.4"/>
<ellipse cx="212.8" cy="512.5" rx="8.6" ry="5.0" fill="none" stroke="#d39d39" stroke-width="0.9" opacity="0.9"/>
<text x="212.8" y="516.5" font-size="11.4" fill="#c48a25" font-weight="700" text-anchor="middle" transform="translate(212.8 512.5) scale(1 0.67) translate(-212.8 -512.5)">$</text>
</g>
<polygon points="407.5,364.5 380.8,348.2 380.8,475.9 407.5,492.2" fill="url(#ms2)" stroke="#27364f" stroke-width="1.6" stroke-linejoin="round"/>
<polygon points="407.5,364.5 483.2,343.8 483.2,471.5 407.5,492.2" fill="url(#mf2)" stroke="#27364f" stroke-width="1.6" stroke-linejoin="round"/>
<polygon points="407.5,364.5 483.2,343.8 456.5,327.5 380.8,348.2" fill="url(#mt2)" stroke="#27364f" stroke-width="1.6" stroke-linejoin="round"/>
<polygon points="407.5,483.9 483.2,463.2 483.2,471.5 407.5,492.2" fill="#86a8d8" stroke="#27364f" stroke-width="1.1" stroke-linejoin="round"/>
<polygon points="407.5,483.9 380.8,467.6 380.8,475.9 407.5,492.2" fill="#6487c6" opacity="0.55" stroke="#27364f" stroke-width="1.1" stroke-linejoin="round"/>
<polygon points="409.8,491.6 418.9,489.1 418.9,492.6 409.8,495.1" fill="#5d7596" stroke="#27364f" stroke-width="1"/>
<polygon points="471.8,474.6 480.9,472.1 480.9,475.6 471.8,478.1" fill="#5d7596" stroke="#27364f" stroke-width="1"/>
<polygon points="413.9,369.1 463.1,355.7 463.1,411.2 413.9,424.7" fill="#e9eef5" stroke="#27364f" stroke-width="1.3" stroke-linejoin="round"/>
<polygon points="416.2,370.8 460.9,358.6 460.9,409.5 416.2,421.8" fill="#cddcec" stroke="#5b6f8c" stroke-width="0.8" stroke-linejoin="round"/>
<polygon points="419.9,373.4 427.1,371.4 427.1,381.0 419.9,383.0" fill="#e6c874" stroke="#4b5a70" stroke-width="0.7" stroke-linejoin="round"/>
<circle cx="423.5" cy="377.8" r="1.5" fill="#fff" opacity="0.55"/>
<polygon points="429.9,370.6 437.1,368.7 437.1,378.2 429.9,380.2" fill="#92bede" stroke="#4b5a70" stroke-width="0.7" stroke-linejoin="round"/>
<circle cx="433.5" cy="375.1" r="1.5" fill="#fff" opacity="0.55"/>
<polygon points="439.9,367.9 447.2,365.9 447.2,375.5 439.9,377.5" fill="#dc8a80" stroke="#4b5a70" stroke-width="0.7" stroke-linejoin="round"/>
<circle cx="443.6" cy="372.3" r="1.5" fill="#fff" opacity="0.55"/>
<polygon points="450.0,365.1 457.2,363.2 457.2,372.7 450.0,374.7" fill="#94c8aa" stroke="#4b5a70" stroke-width="0.7" stroke-linejoin="round"/>
<circle cx="453.6" cy="369.6" r="1.5" fill="#fff" opacity="0.55"/>
<polygon points="415.4,385.2 461.6,372.6 461.6,375.1 415.4,387.7" fill="#f7f9fb" stroke="#4b5a70" stroke-width="0.7" stroke-linejoin="round"/>
<polygon points="419.9,390.4 427.1,388.4 427.1,398.0 419.9,399.9" fill="#e6c874" stroke="#4b5a70" stroke-width="0.7" stroke-linejoin="round"/>
<circle cx="423.5" cy="394.8" r="1.5" fill="#fff" opacity="0.55"/>
<polygon points="429.9,387.6 437.1,385.6 437.1,395.2 429.9,397.2" fill="#dc8a80" stroke="#4b5a70" stroke-width="0.7" stroke-linejoin="round"/>
<circle cx="433.5" cy="392.1" r="1.5" fill="#fff" opacity="0.55"/>
<polygon points="439.9,384.9 447.2,382.9 447.2,392.5 439.9,394.4" fill="#94c8aa" stroke="#4b5a70" stroke-width="0.7" stroke-linejoin="round"/>
<circle cx="443.6" cy="389.3" r="1.5" fill="#fff" opacity="0.55"/>
<polygon points="450.0,382.1 457.2,380.2 457.2,389.7 450.0,391.7" fill="#e39f56" stroke="#4b5a70" stroke-width="0.7" stroke-linejoin="round"/>
<circle cx="453.6" cy="386.6" r="1.5" fill="#fff" opacity="0.55"/>
<polygon points="415.4,402.2 461.6,389.5 461.6,392.1 415.4,404.7" fill="#f7f9fb" stroke="#4b5a70" stroke-width="0.7" stroke-linejoin="round"/>
<polygon points="419.9,407.3 427.1,405.4 427.1,414.9 419.9,416.9" fill="#e8b066" stroke="#4b5a70" stroke-width="0.7" stroke-linejoin="round"/>
<circle cx="423.5" cy="411.8" r="1.5" fill="#fff" opacity="0.55"/>
<polygon points="429.9,404.6 437.1,402.6 437.1,412.2 429.9,414.2" fill="#e39f56" stroke="#4b5a70" stroke-width="0.7" stroke-linejoin="round"/>
<circle cx="433.5" cy="409.0" r="1.5" fill="#fff" opacity="0.55"/>
<polygon points="439.9,401.9 447.2,399.9 447.2,409.5 439.9,411.4" fill="#e6c874" stroke="#4b5a70" stroke-width="0.7" stroke-linejoin="round"/>
<circle cx="443.6" cy="406.3" r="1.5" fill="#fff" opacity="0.55"/>
<polygon points="450.0,399.1 457.2,397.1 457.2,406.7 450.0,408.7" fill="#dc8a80" stroke="#4b5a70" stroke-width="0.7" stroke-linejoin="round"/>
<circle cx="453.6" cy="403.6" r="1.5" fill="#fff" opacity="0.55"/>
<polygon points="415.4,419.2 461.6,406.5 461.6,409.1 415.4,421.7" fill="#f7f9fb" stroke="#4b5a70" stroke-width="0.7" stroke-linejoin="round"/>
<polygon points="468.1,370.3 478.3,367.5 478.3,373.9 468.1,376.7" fill="#5f6f86" stroke="#27364f" stroke-width="1" stroke-linejoin="round" />
<polygon points="468.1,381.1 478.3,378.3 478.3,395.6 468.1,398.4" fill="#4d5b70" stroke="#27364f" stroke-width="1" stroke-linejoin="round" />
<polygon points="469.6,382.6 476.8,380.7 476.8,394.1 469.6,396.1" fill="#77859a" stroke="#27364f" stroke-width="0.5" stroke-linejoin="round" />
<polygon points="468.1,403.5 478.3,400.7 478.3,404.9 468.1,407.7" fill="#5f6f86" stroke="#27364f" stroke-width="1" stroke-linejoin="round" />
<g transform="translate(471.5,416.6) rotate(-15.3)"><ellipse rx="6.3" ry="4.3" fill="#5a687d" stroke="#27364f" stroke-width="1"/><ellipse cx="-2.6" rx="1.6" ry="1.5" fill="#cfd8e3"/><ellipse cx="2.6" rx="1.6" ry="1.5" fill="#cfd8e3"/><rect x="-0.7" y="-3.2" width="1.4" height="6.4" fill="#cfd8e3"/></g>
<polygon points="454.1,420.7 461.6,418.7 461.6,426.3 454.1,428.4" fill="#5f6f86" stroke="#27364f" stroke-width="1" stroke-linejoin="round" />
<polygon points="470.3,447.6 476.8,445.8 476.8,452.6 470.3,454.3" fill="#f0923e" stroke="#27364f" stroke-width="0.9" stroke-linejoin="round" />
<polygon points="414.7,430.9 444.6,422.7 444.6,444.4 414.7,452.6" fill="#8fb5e2" stroke="#27364f" stroke-width="1" stroke-linejoin="round"/>
<polygon points="418.1,456.7 462.8,444.5 462.8,457.3 418.1,469.5" fill="#d9dfe8" stroke="#27364f" stroke-width="1.1" stroke-linejoin="round" />
<polygon points="420.0,459.0 460.9,447.9 460.9,456.3 420.0,467.5" fill="#8e98a8" stroke="#27364f" stroke-width="0.6" stroke-linejoin="round" />
<polygon points="420.0,459.0 460.9,447.9 460.9,451.4 420.0,462.6" fill="#4a5466" stroke="#27364f" stroke-width="0.4" stroke-linejoin="round" />
<line x1="399.5" y1="449.0" x2="399.5" y2="474.5" stroke="#3a5580" stroke-width="0.9" opacity="0.7"/>
<line x1="396.3" y1="449.6" x2="396.3" y2="472.6" stroke="#3a5580" stroke-width="0.9" opacity="0.7"/>
<line x1="393.1" y1="450.2" x2="393.1" y2="470.6" stroke="#3a5580" stroke-width="0.9" opacity="0.7"/>
<line x1="389.9" y1="450.8" x2="389.9" y2="468.7" stroke="#3a5580" stroke-width="0.9" opacity="0.7"/>
<g transform="matrix(0.5821 0.7464 -1.1900 0.3000 458.00 458.00)"><rect x="0" y="0" width="28" height="20" rx="1.2" fill="#b2dfca" stroke="#2b4f4a" stroke-width="1.25"/><rect x="2.2" y="2.2" width="23.6" height="15.6" rx="0.8" fill="none" stroke="#e6f6ec" stroke-width="1.1"/><ellipse cx="14" cy="10" rx="6.0" ry="5.6" fill="#5fae93"/><circle cx="5.5" cy="10" r="1.3" fill="#5fae93"/><circle cx="22.5" cy="10" r="1.3" fill="#5fae93"/></g>
<polygon points="600.5,375.0 631.7,358.6 631.7,482.6 600.5,499.0" fill="url(#ms3)" stroke="#27364f" stroke-width="1.6" stroke-linejoin="round"/>
<polygon points="527.8,349.7 600.5,375.0 600.5,499.0 527.8,473.7" fill="url(#mf3)" stroke="#27364f" stroke-width="1.6" stroke-linejoin="round"/>
<polygon points="527.8,349.7 600.5,375.0 631.7,358.6 559.0,333.3" fill="url(#mt3)" stroke="#27364f" stroke-width="1.6" stroke-linejoin="round"/>
<polygon points="527.8,465.6 600.5,490.9 600.5,499.0 527.8,473.7" fill="#6db78a" stroke="#27364f" stroke-width="1.1" stroke-linejoin="round"/>
<polygon points="600.5,490.9 631.7,474.5 631.7,482.6 600.5,499.0" fill="#3f9470" opacity="0.55" stroke="#27364f" stroke-width="1.1" stroke-linejoin="round"/>
<polygon points="530.0,474.5 538.7,477.5 538.7,481.0 530.0,478.0" fill="#5d7596" stroke="#27364f" stroke-width="1"/>
<polygon points="589.6,495.2 598.3,498.2 598.3,501.7 589.6,498.7" fill="#5d7596" stroke="#27364f" stroke-width="1"/>
<polygon points="534.0,358.1 581.2,374.5 581.2,428.4 534.0,412.0" fill="#e9eef5" stroke="#27364f" stroke-width="1.3" stroke-linejoin="round"/>
<polygon points="536.2,361.0 579.1,376.0 579.1,425.4 536.2,410.5" fill="#d9ecef" stroke="#5b6f8c" stroke-width="0.8" stroke-linejoin="round"/>
<polygon points="539.7,365.7 546.6,368.2 546.6,377.5 539.7,375.0" fill="#e39f56" stroke="#4b5a70" stroke-width="0.7" stroke-linejoin="round"/>
<circle cx="543.2" cy="372.2" r="1.5" fill="#fff" opacity="0.55"/>
<polygon points="549.3,369.1 556.3,371.5 556.3,380.8 549.3,378.4" fill="#92bede" stroke="#4b5a70" stroke-width="0.7" stroke-linejoin="round"/>
<circle cx="552.8" cy="375.6" r="1.5" fill="#fff" opacity="0.55"/>
<polygon points="559.0,372.4 565.9,374.9 565.9,384.2 559.0,381.7" fill="#e6c874" stroke="#4b5a70" stroke-width="0.7" stroke-linejoin="round"/>
<circle cx="562.4" cy="378.9" r="1.5" fill="#fff" opacity="0.55"/>
<polygon points="568.6,375.8 575.5,378.2 575.5,387.5 568.6,385.1" fill="#e8b066" stroke="#4b5a70" stroke-width="0.7" stroke-linejoin="round"/>
<circle cx="572.1" cy="382.3" r="1.5" fill="#fff" opacity="0.55"/>
<polygon points="535.4,374.6 579.8,390.0 579.8,392.5 535.4,377.0" fill="#f7f9fb" stroke="#4b5a70" stroke-width="0.7" stroke-linejoin="round"/>
<polygon points="539.7,382.2 546.6,384.6 546.6,393.9 539.7,391.5" fill="#94c8aa" stroke="#4b5a70" stroke-width="0.7" stroke-linejoin="round"/>
<circle cx="543.2" cy="388.7" r="1.5" fill="#fff" opacity="0.55"/>
<polygon points="549.3,385.6 556.3,388.0 556.3,397.3 549.3,394.9" fill="#92bede" stroke="#4b5a70" stroke-width="0.7" stroke-linejoin="round"/>
<circle cx="552.8" cy="392.1" r="1.5" fill="#fff" opacity="0.55"/>
<polygon points="559.0,388.9 565.9,391.4 565.9,400.7 559.0,398.2" fill="#e8b066" stroke="#4b5a70" stroke-width="0.7" stroke-linejoin="round"/>
<circle cx="562.4" cy="395.4" r="1.5" fill="#fff" opacity="0.55"/>
<polygon points="568.6,392.3 575.5,394.7 575.5,404.0 568.6,401.6" fill="#e39f56" stroke="#4b5a70" stroke-width="0.7" stroke-linejoin="round"/>
<circle cx="572.1" cy="398.8" r="1.5" fill="#fff" opacity="0.55"/>
<polygon points="535.4,391.0 579.8,406.5 579.8,409.0 535.4,393.5" fill="#f7f9fb" stroke="#4b5a70" stroke-width="0.7" stroke-linejoin="round"/>
<polygon points="539.7,398.7 546.6,401.1 546.6,410.4 539.7,408.0" fill="#e8b066" stroke="#4b5a70" stroke-width="0.7" stroke-linejoin="round"/>
<circle cx="543.2" cy="405.2" r="1.5" fill="#fff" opacity="0.55"/>
<polygon points="549.3,402.1 556.3,404.5 556.3,413.8 549.3,411.4" fill="#dc8a80" stroke="#4b5a70" stroke-width="0.7" stroke-linejoin="round"/>
<circle cx="552.8" cy="408.6" r="1.5" fill="#fff" opacity="0.55"/>
<polygon points="559.0,405.4 565.9,407.8 565.9,417.1 559.0,414.7" fill="#94c8aa" stroke="#4b5a70" stroke-width="0.7" stroke-linejoin="round"/>
<circle cx="562.4" cy="411.9" r="1.5" fill="#fff" opacity="0.55"/>
<polygon points="568.6,408.8 575.5,411.2 575.5,420.5 568.6,418.1" fill="#92bede" stroke="#4b5a70" stroke-width="0.7" stroke-linejoin="round"/>
<circle cx="572.1" cy="415.3" r="1.5" fill="#fff" opacity="0.55"/>
<polygon points="535.4,407.5 579.8,423.0 579.8,425.4 535.4,410.0" fill="#f7f9fb" stroke="#4b5a70" stroke-width="0.7" stroke-linejoin="round"/>
<polygon points="586.0,391.6 595.8,395.1 595.8,401.3 586.0,397.8" fill="#5f6f86" stroke="#27364f" stroke-width="1" stroke-linejoin="round" />
<polygon points="586.0,402.2 595.8,405.6 595.8,422.3 586.0,418.9" fill="#4d5b70" stroke="#27364f" stroke-width="1" stroke-linejoin="round" />
<polygon points="587.4,404.5 594.3,406.9 594.3,420.0 587.4,417.6" fill="#77859a" stroke="#27364f" stroke-width="0.5" stroke-linejoin="round" />
<polygon points="586.0,423.9 595.8,427.3 595.8,431.4 586.0,428.0" fill="#5f6f86" stroke="#27364f" stroke-width="1" stroke-linejoin="round" />
<g transform="translate(589.2,438.7) rotate(19.2)"><ellipse rx="6.3" ry="4.3" fill="#5a687d" stroke="#27364f" stroke-width="1"/><ellipse cx="-2.6" rx="1.6" ry="1.5" fill="#cfd8e3"/><ellipse cx="2.6" rx="1.6" ry="1.5" fill="#cfd8e3"/><rect x="-0.7" y="-3.2" width="1.4" height="6.4" fill="#cfd8e3"/></g>
<polygon points="572.5,432.2 579.8,434.7 579.8,442.2 572.5,439.7" fill="#5f6f86" stroke="#27364f" stroke-width="1" stroke-linejoin="round" />
<polygon points="588.1,468.0 594.3,470.2 594.3,476.8 588.1,474.6" fill="#f0923e" stroke="#27364f" stroke-width="0.9" stroke-linejoin="round" />
<polygon points="534.7,418.4 563.4,428.4 563.4,449.5 534.7,439.5" fill="#3c9a66" stroke="#2a6d4a" stroke-width="1" stroke-linejoin="round"/>
<text x="0" y="3.9" font-size="11" fill="#f4fbf6" font-weight="700" text-anchor="middle" transform="translate(549.1 434.0) skewY(19.2)">PR</text>
<polygon points="538.0,445.6 580.9,460.5 580.9,472.9 538.0,458.0" fill="#d9dfe8" stroke="#27364f" stroke-width="1.1" stroke-linejoin="round" />
<polygon points="539.8,449.0 579.1,462.6 579.1,470.8 539.8,457.2" fill="#8e98a8" stroke="#27364f" stroke-width="0.6" stroke-linejoin="round" />
<polygon points="539.8,449.0 579.1,462.6 579.1,466.1 539.8,452.5" fill="#4a5466" stroke="#27364f" stroke-width="0.4" stroke-linejoin="round" />
<line x1="609.9" y1="456.9" x2="609.9" y2="481.7" stroke="#2f6e50" stroke-width="0.9" opacity="0.7"/>
<line x1="613.6" y1="457.4" x2="613.6" y2="479.7" stroke="#2f6e50" stroke-width="0.9" opacity="0.7"/>
<line x1="617.3" y1="457.9" x2="617.3" y2="477.7" stroke="#2f6e50" stroke-width="0.9" opacity="0.7"/>
<line x1="621.1" y1="458.4" x2="621.1" y2="475.8" stroke="#2f6e50" stroke-width="0.9" opacity="0.7"/>
<polygon points="768.0,347.0 787.0,334.0 787.0,452.0 768.0,465.0" fill="url(#ms4)" stroke="#27364f" stroke-width="1.6" stroke-linejoin="round"/>
<polygon points="696.5,332.3 768.0,347.0 768.0,465.0 696.5,450.3" fill="url(#mf4)" stroke="#27364f" stroke-width="1.6" stroke-linejoin="round"/>
<polygon points="696.5,332.3 768.0,347.0 787.0,334.0 715.5,319.3" fill="url(#mt4)" stroke="#27364f" stroke-width="1.6" stroke-linejoin="round"/>
<polygon points="696.5,442.6 768.0,457.3 768.0,465.0 696.5,450.3" fill="#7ea2d6" stroke="#27364f" stroke-width="1.1" stroke-linejoin="round"/>
<polygon points="768.0,457.3 787.0,444.3 787.0,452.0 768.0,465.0" fill="#5882c6" opacity="0.55" stroke="#27364f" stroke-width="1.1" stroke-linejoin="round"/>
<polygon points="698.6,450.7 707.2,452.5 707.2,456.0 698.6,454.2" fill="#5d7596" stroke="#27364f" stroke-width="1"/>
<polygon points="757.3,462.8 765.9,464.6 765.9,468.1 757.3,466.3" fill="#5d7596" stroke="#27364f" stroke-width="1"/>
<polygon points="702.6,339.4 749.1,349.0 749.1,400.3 702.6,390.8" fill="#e9eef5" stroke="#27364f" stroke-width="1.3" stroke-linejoin="round"/>
<polygon points="704.7,342.0 746.9,350.7 746.9,397.8 704.7,389.1" fill="#cddcec" stroke="#5b6f8c" stroke-width="0.8" stroke-linejoin="round"/>
<polygon points="708.2,346.0 715.0,347.4 715.0,356.3 708.2,354.9" fill="#dc8a80" stroke="#4b5a70" stroke-width="0.7" stroke-linejoin="round"/>
<circle cx="711.6" cy="351.7" r="1.5" fill="#fff" opacity="0.55"/>
<polygon points="717.7,348.0 724.5,349.4 724.5,358.2 717.7,356.8" fill="#94c8aa" stroke="#4b5a70" stroke-width="0.7" stroke-linejoin="round"/>
<circle cx="721.1" cy="353.7" r="1.5" fill="#fff" opacity="0.55"/>
<polygon points="727.1,349.9 734.0,351.3 734.0,360.2 727.1,358.8" fill="#e6c874" stroke="#4b5a70" stroke-width="0.7" stroke-linejoin="round"/>
<circle cx="730.6" cy="355.6" r="1.5" fill="#fff" opacity="0.55"/>
<polygon points="736.6,351.9 743.4,353.3 743.4,362.1 736.6,360.7" fill="#92bede" stroke="#4b5a70" stroke-width="0.7" stroke-linejoin="round"/>
<circle cx="740.0" cy="357.6" r="1.5" fill="#fff" opacity="0.55"/>
<polygon points="704.0,355.0 747.6,363.9 747.6,366.3 704.0,357.3" fill="#f7f9fb" stroke="#4b5a70" stroke-width="0.7" stroke-linejoin="round"/>
<polygon points="708.2,361.7 715.0,363.1 715.0,372.0 708.2,370.6" fill="#94c8aa" stroke="#4b5a70" stroke-width="0.7" stroke-linejoin="round"/>
<circle cx="711.6" cy="367.4" r="1.5" fill="#fff" opacity="0.55"/>
<polygon points="717.7,363.7 724.5,365.1 724.5,373.9 717.7,372.5" fill="#e39f56" stroke="#4b5a70" stroke-width="0.7" stroke-linejoin="round"/>
<circle cx="721.1" cy="369.4" r="1.5" fill="#fff" opacity="0.55"/>
<polygon points="727.1,365.6 734.0,367.0 734.0,375.9 727.1,374.5" fill="#e6c874" stroke="#4b5a70" stroke-width="0.7" stroke-linejoin="round"/>
<circle cx="730.6" cy="371.3" r="1.5" fill="#fff" opacity="0.55"/>
<polygon points="736.6,367.6 743.4,369.0 743.4,377.8 736.6,376.4" fill="#dc8a80" stroke="#4b5a70" stroke-width="0.7" stroke-linejoin="round"/>
<circle cx="740.0" cy="373.3" r="1.5" fill="#fff" opacity="0.55"/>
<polygon points="704.0,370.7 747.6,379.6 747.6,382.0 704.0,373.0" fill="#f7f9fb" stroke="#4b5a70" stroke-width="0.7" stroke-linejoin="round"/>
<polygon points="708.2,377.4 715.0,378.8 715.0,387.7 708.2,386.3" fill="#e6c874" stroke="#4b5a70" stroke-width="0.7" stroke-linejoin="round"/>
<circle cx="711.6" cy="383.1" r="1.5" fill="#fff" opacity="0.55"/>
<polygon points="717.7,379.4 724.5,380.8 724.5,389.6 717.7,388.2" fill="#dc8a80" stroke="#4b5a70" stroke-width="0.7" stroke-linejoin="round"/>
<circle cx="721.1" cy="385.1" r="1.5" fill="#fff" opacity="0.55"/>
<polygon points="727.1,381.3 734.0,382.7 734.0,391.6 727.1,390.2" fill="#e8b066" stroke="#4b5a70" stroke-width="0.7" stroke-linejoin="round"/>
<circle cx="730.6" cy="387.0" r="1.5" fill="#fff" opacity="0.55"/>
<polygon points="736.6,383.3 743.4,384.7 743.4,393.5 736.6,392.1" fill="#e39f56" stroke="#4b5a70" stroke-width="0.7" stroke-linejoin="round"/>
<circle cx="740.0" cy="389.0" r="1.5" fill="#fff" opacity="0.55"/>
<polygon points="704.0,386.4 747.6,395.3 747.6,397.7 704.0,388.7" fill="#f7f9fb" stroke="#4b5a70" stroke-width="0.7" stroke-linejoin="round"/>
<polygon points="753.7,364.7 763.4,366.7 763.4,372.6 753.7,370.6" fill="#5f6f86" stroke="#27364f" stroke-width="1" stroke-linejoin="round" />
<polygon points="753.7,374.7 763.4,376.7 763.4,392.7 753.7,390.7" fill="#4d5b70" stroke="#27364f" stroke-width="1" stroke-linejoin="round" />
<polygon points="755.1,376.8 761.9,378.2 761.9,390.6 755.1,389.2" fill="#77859a" stroke="#27364f" stroke-width="0.5" stroke-linejoin="round" />
<polygon points="753.7,395.4 763.4,397.4 763.4,401.3 753.7,399.3" fill="#5f6f86" stroke="#27364f" stroke-width="1" stroke-linejoin="round" />
<g transform="translate(756.9,409.0) rotate(11.6)"><ellipse rx="6.3" ry="4.3" fill="#5a687d" stroke="#27364f" stroke-width="1"/><ellipse cx="-2.6" rx="1.6" ry="1.5" fill="#cfd8e3"/><ellipse cx="2.6" rx="1.6" ry="1.5" fill="#cfd8e3"/><rect x="-0.7" y="-3.2" width="1.4" height="6.4" fill="#cfd8e3"/></g>
<polygon points="740.5,405.1 747.6,406.5 747.6,413.6 740.5,412.1" fill="#5f6f86" stroke="#27364f" stroke-width="1" stroke-linejoin="round" />
<polygon points="755.8,437.1 761.9,438.4 761.9,444.6 755.8,443.4" fill="#f0923e" stroke="#27364f" stroke-width="0.9" stroke-linejoin="round" />
<polygon points="703.3,396.8 731.5,402.6 731.5,422.7 703.3,416.9" fill="#86aee0" stroke="#27364f" stroke-width="1" stroke-linejoin="round"/>
<polygon points="706.5,422.3 748.7,430.9 748.7,442.7 706.5,434.1" fill="#d9dfe8" stroke="#27364f" stroke-width="1.1" stroke-linejoin="round" />
<polygon points="708.3,425.2 746.9,433.2 746.9,441.0 708.3,433.0" fill="#8e98a8" stroke="#27364f" stroke-width="0.6" stroke-linejoin="round" />
<polygon points="708.3,425.2 746.9,433.2 746.9,436.5 708.3,428.5" fill="#4a5466" stroke="#27364f" stroke-width="0.4" stroke-linejoin="round" />
<polygon points="857.7,351.6 878.7,337.1 878.7,458.1 857.7,472.6" fill="url(#ms5)" stroke="#27364f" stroke-width="1.6" stroke-linejoin="round"/>
<polygon points="787.3,338.2 857.7,351.6 857.7,472.6 787.3,459.2" fill="url(#mf5)" stroke="#27364f" stroke-width="1.6" stroke-linejoin="round"/>
<polygon points="787.3,338.2 857.7,351.6 878.7,337.1 808.3,323.7" fill="url(#mt5)" stroke="#27364f" stroke-width="1.6" stroke-linejoin="round"/>
<polygon points="787.3,451.3 857.7,464.7 857.7,472.6 787.3,459.2" fill="#6db78a" stroke="#27364f" stroke-width="1.1" stroke-linejoin="round"/>
<polygon points="857.7,464.7 878.7,450.2 878.7,458.1 857.7,472.6" fill="#3f9470" opacity="0.55" stroke="#27364f" stroke-width="1.1" stroke-linejoin="round"/>
<polygon points="789.4,459.6 797.9,461.2 797.9,464.7 789.4,463.1" fill="#5d7596" stroke="#27364f" stroke-width="1"/>
<polygon points="847.1,470.6 855.6,472.2 855.6,475.7 847.1,474.1" fill="#5d7596" stroke="#27364f" stroke-width="1"/>
<polygon points="793.3,345.4 839.0,354.1 839.0,406.7 793.3,398.0" fill="#e9eef5" stroke="#27364f" stroke-width="1.3" stroke-linejoin="round"/>
<polygon points="795.4,348.0 836.9,355.9 836.9,404.2 795.4,396.2" fill="#d9ecef" stroke="#5b6f8c" stroke-width="0.8" stroke-linejoin="round"/>
<polygon points="798.8,352.0 805.5,353.3 805.5,362.4 798.8,361.1" fill="#94c8aa" stroke="#4b5a70" stroke-width="0.7" stroke-linejoin="round"/>
<circle cx="802.2" cy="357.8" r="1.5" fill="#fff" opacity="0.55"/>
<polygon points="808.1,353.8 814.9,355.1 814.9,364.1 808.1,362.9" fill="#e6c874" stroke="#4b5a70" stroke-width="0.7" stroke-linejoin="round"/>
<circle cx="811.5" cy="359.6" r="1.5" fill="#fff" opacity="0.55"/>
<polygon points="817.5,355.6 824.2,356.8 824.2,365.9 817.5,364.6" fill="#dc8a80" stroke="#4b5a70" stroke-width="0.7" stroke-linejoin="round"/>
<circle cx="820.8" cy="361.3" r="1.5" fill="#fff" opacity="0.55"/>
<polygon points="826.8,357.3 833.5,358.6 833.5,367.7 826.8,366.4" fill="#e39f56" stroke="#4b5a70" stroke-width="0.7" stroke-linejoin="round"/>
<circle cx="830.2" cy="363.1" r="1.5" fill="#fff" opacity="0.55"/>
<polygon points="794.7,361.3 837.6,369.4 837.6,371.9 794.7,363.7" fill="#f7f9fb" stroke="#4b5a70" stroke-width="0.7" stroke-linejoin="round"/>
<polygon points="798.8,368.1 805.5,369.4 805.5,378.5 798.8,377.2" fill="#dc8a80" stroke="#4b5a70" stroke-width="0.7" stroke-linejoin="round"/>
<circle cx="802.2" cy="373.9" r="1.5" fill="#fff" opacity="0.55"/>
<polygon points="808.1,369.9 814.9,371.2 814.9,380.2 808.1,379.0" fill="#e8b066" stroke="#4b5a70" stroke-width="0.7" stroke-linejoin="round"/>
<circle cx="811.5" cy="375.7" r="1.5" fill="#fff" opacity="0.55"/>
<polygon points="817.5,371.7 824.2,372.9 824.2,382.0 817.5,380.7" fill="#e39f56" stroke="#4b5a70" stroke-width="0.7" stroke-linejoin="round"/>
<circle cx="820.8" cy="377.4" r="1.5" fill="#fff" opacity="0.55"/>
<polygon points="826.8,373.4 833.5,374.7 833.5,383.8 826.8,382.5" fill="#92bede" stroke="#4b5a70" stroke-width="0.7" stroke-linejoin="round"/>
<circle cx="830.2" cy="379.2" r="1.5" fill="#fff" opacity="0.55"/>
<polygon points="794.7,377.4 837.6,385.5 837.6,388.0 794.7,379.8" fill="#f7f9fb" stroke="#4b5a70" stroke-width="0.7" stroke-linejoin="round"/>
<polygon points="798.8,384.2 805.5,385.5 805.5,394.5 798.8,393.3" fill="#dc8a80" stroke="#4b5a70" stroke-width="0.7" stroke-linejoin="round"/>
<circle cx="802.2" cy="390.0" r="1.5" fill="#fff" opacity="0.55"/>
<polygon points="808.1,386.0 814.9,387.2 814.9,396.3 808.1,395.0" fill="#e39f56" stroke="#4b5a70" stroke-width="0.7" stroke-linejoin="round"/>
<circle cx="811.5" cy="391.8" r="1.5" fill="#fff" opacity="0.55"/>
<polygon points="817.5,387.7 824.2,389.0 824.2,398.1 817.5,396.8" fill="#92bede" stroke="#4b5a70" stroke-width="0.7" stroke-linejoin="round"/>
<circle cx="820.8" cy="393.5" r="1.5" fill="#fff" opacity="0.55"/>
<polygon points="826.8,389.5 833.5,390.8 833.5,399.9 826.8,398.6" fill="#e6c874" stroke="#4b5a70" stroke-width="0.7" stroke-linejoin="round"/>
<circle cx="830.2" cy="395.3" r="1.5" fill="#fff" opacity="0.55"/>
<polygon points="794.7,393.5 837.6,401.6 837.6,404.0 794.7,395.9" fill="#f7f9fb" stroke="#4b5a70" stroke-width="0.7" stroke-linejoin="round"/>
<polygon points="843.6,370.1 853.1,371.9 853.1,378.0 843.6,376.1" fill="#5f6f86" stroke="#27364f" stroke-width="1" stroke-linejoin="round" />
<polygon points="843.6,380.4 853.1,382.2 853.1,398.5 843.6,396.7" fill="#4d5b70" stroke="#27364f" stroke-width="1" stroke-linejoin="round" />
<polygon points="845.0,382.5 851.7,383.7 851.7,396.4 845.0,395.2" fill="#77859a" stroke="#27364f" stroke-width="0.5" stroke-linejoin="round" />
<polygon points="843.6,401.6 853.1,403.4 853.1,407.4 843.6,405.5" fill="#5f6f86" stroke="#27364f" stroke-width="1" stroke-linejoin="round" />
<g transform="translate(846.8,415.5) rotate(10.8)"><ellipse rx="6.3" ry="4.3" fill="#5a687d" stroke="#27364f" stroke-width="1"/><ellipse cx="-2.6" rx="1.6" ry="1.5" fill="#cfd8e3"/><ellipse cx="2.6" rx="1.6" ry="1.5" fill="#cfd8e3"/><rect x="-0.7" y="-3.2" width="1.4" height="6.4" fill="#cfd8e3"/></g>
<polygon points="830.6,411.8 837.6,413.1 837.6,420.4 830.6,419.0" fill="#5f6f86" stroke="#27364f" stroke-width="1" stroke-linejoin="round" />
<polygon points="845.7,444.3 851.7,445.4 851.7,451.9 845.7,450.7" fill="#f0923e" stroke="#27364f" stroke-width="0.9" stroke-linejoin="round" />
<polygon points="794.0,404.2 821.8,409.5 821.8,430.1 794.0,424.8" fill="#3c9a66" stroke="#2a6d4a" stroke-width="1" stroke-linejoin="round"/>
<rect x="801.9" y="419.1" width="2.2" height="3.0" fill="#e9f7ee" transform="skewY(0.0)" style="transform-origin:801.9px 417.1px"/>
<rect x="805.3" y="417.7" width="2.2" height="5.0" fill="#e9f7ee" transform="skewY(0.0)" style="transform-origin:805.3px 417.1px"/>
<rect x="808.7" y="416.3" width="2.2" height="7.0" fill="#e9f7ee" transform="skewY(0.0)" style="transform-origin:808.7px 417.1px"/>
<rect x="812.1" y="414.4" width="2.2" height="9.5" fill="#e9f7ee" transform="skewY(0.0)" style="transform-origin:812.1px 417.1px"/>
<polygon points="797.2,430.2 838.7,438.1 838.7,450.2 797.2,442.3" fill="#d9dfe8" stroke="#27364f" stroke-width="1.1" stroke-linejoin="round" />
<polygon points="798.9,433.2 836.9,440.5 836.9,448.4 798.9,441.2" fill="#8e98a8" stroke="#27364f" stroke-width="0.6" stroke-linejoin="round" />
<polygon points="798.9,433.2 836.9,440.5 836.9,443.8 798.9,436.6" fill="#4a5466" stroke="#27364f" stroke-width="0.4" stroke-linejoin="round" />
<line x1="864.0" y1="431.9" x2="864.0" y2="456.1" stroke="#2f6e50" stroke-width="0.9" opacity="0.7"/>
<line x1="866.5" y1="432.6" x2="866.5" y2="454.4" stroke="#2f6e50" stroke-width="0.9" opacity="0.7"/>
<line x1="869.0" y1="433.3" x2="869.0" y2="452.7" stroke="#2f6e50" stroke-width="0.9" opacity="0.7"/>
<line x1="871.6" y1="434.0" x2="871.6" y2="450.9" stroke="#2f6e50" stroke-width="0.9" opacity="0.7"/>
<polygon points="946.8,364.9 970.8,351.3 970.8,474.3 946.8,487.9" fill="url(#ms6)" stroke="#27364f" stroke-width="1.6" stroke-linejoin="round"/>
<polygon points="880.0,344.1 946.8,364.9 946.8,487.9 880.0,467.1" fill="url(#mf6)" stroke="#27364f" stroke-width="1.6" stroke-linejoin="round"/>
<polygon points="880.0,344.1 946.8,364.9 970.8,351.3 904.0,330.5" fill="url(#mt6)" stroke="#27364f" stroke-width="1.6" stroke-linejoin="round"/>
<polygon points="880.0,459.1 946.8,479.9 946.8,487.9 880.0,467.1" fill="#d9a94e" stroke="#27364f" stroke-width="1.1" stroke-linejoin="round"/>
<polygon points="946.8,479.9 970.8,466.3 970.8,474.3 946.8,487.9" fill="#d39e3e" opacity="0.55" stroke="#27364f" stroke-width="1.1" stroke-linejoin="round"/>
<polygon points="882.0,467.7 890.0,470.2 890.0,473.7 882.0,471.2" fill="#5d7596" stroke="#27364f" stroke-width="1"/>
<polygon points="936.8,484.8 944.8,487.3 944.8,490.8 936.8,488.3" fill="#5d7596" stroke="#27364f" stroke-width="1"/>
<polygon points="885.7,352.0 929.1,365.5 929.1,419.0 885.7,405.5" fill="#e9eef5" stroke="#27364f" stroke-width="1.3" stroke-linejoin="round"/>
<polygon points="887.7,354.9 927.1,367.1 927.1,416.2 887.7,403.9" fill="#e4ecec" stroke="#5b6f8c" stroke-width="0.8" stroke-linejoin="round"/>
<polygon points="890.9,359.3 897.3,361.3 897.3,370.5 890.9,368.5" fill="#e6c874" stroke="#4b5a70" stroke-width="0.7" stroke-linejoin="round"/>
<circle cx="894.1" cy="365.5" r="1.5" fill="#fff" opacity="0.55"/>
<polygon points="899.8,362.1 906.1,364.1 906.1,373.3 899.8,371.3" fill="#92bede" stroke="#4b5a70" stroke-width="0.7" stroke-linejoin="round"/>
<circle cx="903.0" cy="368.3" r="1.5" fill="#fff" opacity="0.55"/>
<polygon points="908.6,364.8 915.0,366.8 915.0,376.0 908.6,374.0" fill="#dc8a80" stroke="#4b5a70" stroke-width="0.7" stroke-linejoin="round"/>
<circle cx="911.8" cy="371.0" r="1.5" fill="#fff" opacity="0.55"/>
<polygon points="917.5,367.6 923.9,369.6 923.9,378.8 917.5,376.8" fill="#94c8aa" stroke="#4b5a70" stroke-width="0.7" stroke-linejoin="round"/>
<circle cx="920.7" cy="373.8" r="1.5" fill="#fff" opacity="0.55"/>
<polygon points="887.0,368.3 927.8,381.0 927.8,383.4 887.0,370.8" fill="#f7f9fb" stroke="#4b5a70" stroke-width="0.7" stroke-linejoin="round"/>
<polygon points="887.7,372.7 927.1,385.0 927.1,397.4 887.7,385.1" fill="#3fae94" stroke="#27364f" stroke-width="0.7"/>
<polygon points="902.7,379.6 913.4,382.9 913.4,391.3 902.7,387.9" fill="#e0483c" stroke="#8a231c" stroke-width="0.6" stroke-linejoin="round"/>
<polygon points="906.3,383.0 910.7,385.9 906.3,388.4" fill="#fff"/>
<polygon points="887.0,384.7 927.8,397.3 927.8,399.8 887.0,387.1" fill="#f7f9fb" stroke="#4b5a70" stroke-width="0.7" stroke-linejoin="round"/>
<polygon points="890.9,392.0 897.3,394.0 897.3,403.2 890.9,401.3" fill="#e8b066" stroke="#4b5a70" stroke-width="0.7" stroke-linejoin="round"/>
<circle cx="894.1" cy="398.2" r="1.5" fill="#fff" opacity="0.55"/>
<polygon points="899.8,394.8 906.1,396.8 906.1,406.0 899.8,404.0" fill="#e39f56" stroke="#4b5a70" stroke-width="0.7" stroke-linejoin="round"/>
<circle cx="903.0" cy="401.0" r="1.5" fill="#fff" opacity="0.55"/>
<polygon points="908.6,397.5 915.0,399.5 915.0,408.7 908.6,406.8" fill="#e6c874" stroke="#4b5a70" stroke-width="0.7" stroke-linejoin="round"/>
<circle cx="911.8" cy="403.8" r="1.5" fill="#fff" opacity="0.55"/>
<polygon points="917.5,400.3 923.9,402.3 923.9,411.5 917.5,409.5" fill="#dc8a80" stroke="#4b5a70" stroke-width="0.7" stroke-linejoin="round"/>
<circle cx="920.7" cy="406.5" r="1.5" fill="#fff" opacity="0.55"/>
<polygon points="887.0,401.0 927.8,413.7 927.8,416.2 887.0,403.5" fill="#f7f9fb" stroke="#4b5a70" stroke-width="0.7" stroke-linejoin="round"/>
<polygon points="933.4,382.3 942.5,385.1 942.5,391.2 933.4,388.4" fill="#5f6f86" stroke="#27364f" stroke-width="1" stroke-linejoin="round" />
<polygon points="933.4,392.7 942.5,395.5 942.5,412.1 933.4,409.3" fill="#4d5b70" stroke="#27364f" stroke-width="1" stroke-linejoin="round" />
<polygon points="934.8,395.0 941.1,397.0 941.1,409.9 934.8,407.9" fill="#77859a" stroke="#27364f" stroke-width="0.5" stroke-linejoin="round" />
<polygon points="933.4,414.2 942.5,417.1 942.5,421.1 933.4,418.3" fill="#5f6f86" stroke="#27364f" stroke-width="1" stroke-linejoin="round" />
<g transform="translate(936.4,428.7) rotate(17.3)"><ellipse rx="6.3" ry="4.3" fill="#5a687d" stroke="#27364f" stroke-width="1"/><ellipse cx="-2.6" rx="1.6" ry="1.5" fill="#cfd8e3"/><ellipse cx="2.6" rx="1.6" ry="1.5" fill="#cfd8e3"/><rect x="-0.7" y="-3.2" width="1.4" height="6.4" fill="#cfd8e3"/></g>
<polygon points="921.1,423.3 927.8,425.4 927.8,432.8 921.1,430.7" fill="#5f6f86" stroke="#27364f" stroke-width="1" stroke-linejoin="round" />
<polygon points="935.4,457.9 941.1,459.7 941.1,466.2 935.4,464.4" fill="#f0923e" stroke="#27364f" stroke-width="0.9" stroke-linejoin="round" />
<polygon points="886.3,411.9 912.7,420.1 912.7,441.0 886.3,432.8" fill="#3faa8d" stroke="#2a6d4a" stroke-width="1" stroke-linejoin="round"/>
<path d="M895.5,420.9 h5.5 l2.5,2.5 v8 h-8 z" fill="#eafaf4" stroke="#1f7a62" stroke-width="0.7" transform="rotate(10.4 899.5 426.4)"/>
<polygon points="889.4,438.6 928.8,450.9 928.8,463.2 889.4,450.9" fill="#d9dfe8" stroke="#27364f" stroke-width="1.1" stroke-linejoin="round" />
<polygon points="891.0,441.9 927.1,453.1 927.1,461.2 891.0,450.0" fill="#8e98a8" stroke="#27364f" stroke-width="0.6" stroke-linejoin="round" />
<polygon points="891.0,441.9 927.1,453.1 927.1,456.5 891.0,445.3" fill="#4a5466" stroke="#27364f" stroke-width="0.4" stroke-linejoin="round" />
<g transform="rotate(25.0 551.5 477.5)">
<path d="M540.5,477.5 v0.0 a11.0,13.0 0 0 0 22.0,0 v0.0 z" fill="#d39d39" stroke="#4f3c1a" stroke-width="1.4" stroke-linejoin="round"/>
<ellipse cx="551.5" cy="477.5" rx="11.0" ry="13.0" fill="#f0c45c" stroke="#4f3c1a" stroke-width="1.4"/>
<ellipse cx="551.5" cy="477.5" rx="7.9" ry="9.4" fill="none" stroke="#d39d39" stroke-width="0.9" opacity="0.9"/>
<text x="551.5" y="481.1" font-size="10.4" fill="#c48a25" font-weight="700" text-anchor="middle" transform="translate(551.5 477.5) scale(1 1.36) translate(-551.5 -477.5)">$</text>
</g>
<g transform="rotate(0.0 440.8 503.5)">
<path d="M429.5,503.5 v4.2 a11.3,6.4 0 0 0 22.6,0 v-4.2 z" fill="#d39d39" stroke="#4f3c1a" stroke-width="1.4" stroke-linejoin="round"/>
<ellipse cx="440.8" cy="503.5" rx="11.3" ry="6.4" fill="#f0c45c" stroke="#4f3c1a" stroke-width="1.4"/>
<ellipse cx="440.8" cy="503.5" rx="8.1" ry="4.6" fill="none" stroke="#d39d39" stroke-width="0.9" opacity="0.9"/>
<text x="440.8" y="507.2" font-size="10.7" fill="#c48a25" font-weight="700" text-anchor="middle" transform="translate(440.8 503.5) scale(1 0.65) translate(-440.8 -503.5)">$</text>
</g>
<g transform="rotate(0.0 455.6 500.5)">
<path d="M444.3,500.5 v4.2 a11.3,6.4 0 0 0 22.6,0 v-4.2 z" fill="#d39d39" stroke="#4f3c1a" stroke-width="1.4" stroke-linejoin="round"/>
<ellipse cx="455.6" cy="500.5" rx="11.3" ry="6.4" fill="#f0c45c" stroke="#4f3c1a" stroke-width="1.4"/>
<ellipse cx="455.6" cy="500.5" rx="8.1" ry="4.6" fill="none" stroke="#d39d39" stroke-width="0.9" opacity="0.9"/>
<text x="455.6" y="504.2" font-size="10.7" fill="#c48a25" font-weight="700" text-anchor="middle" transform="translate(455.6 500.5) scale(1 0.65) translate(-455.6 -500.5)">$</text>
</g>
<g transform="rotate(0.0 482.3 496.5)">
<path d="M471.0,496.5 v4.2 a11.3,6.4 0 0 0 22.6,0 v-4.2 z" fill="#d39d39" stroke="#4f3c1a" stroke-width="1.4" stroke-linejoin="round"/>
<ellipse cx="482.3" cy="496.5" rx="11.3" ry="6.4" fill="#f0c45c" stroke="#4f3c1a" stroke-width="1.4"/>
<ellipse cx="482.3" cy="496.5" rx="8.1" ry="4.6" fill="none" stroke="#d39d39" stroke-width="0.9" opacity="0.9"/>
<text x="482.3" y="500.2" font-size="10.7" fill="#c48a25" font-weight="700" text-anchor="middle" transform="translate(482.3 496.5) scale(1 0.65) translate(-482.3 -496.5)">$</text>
</g>
<g transform="rotate(0.0 529.8 510.5)">
<path d="M518.5,510.5 v4.2 a11.3,6.4 0 0 0 22.6,0 v-4.2 z" fill="#d39d39" stroke="#4f3c1a" stroke-width="1.4" stroke-linejoin="round"/>
<ellipse cx="529.8" cy="510.5" rx="11.3" ry="6.4" fill="#f0c45c" stroke="#4f3c1a" stroke-width="1.4"/>
<ellipse cx="529.8" cy="510.5" rx="8.1" ry="4.6" fill="none" stroke="#d39d39" stroke-width="0.9" opacity="0.9"/>
<text x="529.8" y="514.2" font-size="10.7" fill="#c48a25" font-weight="700" text-anchor="middle" transform="translate(529.8 510.5) scale(1 0.65) translate(-529.8 -510.5)">$</text>
</g>
<g transform="rotate(0.0 566.4 506.0)">
<path d="M555.1,506.0 v4.2 a11.3,6.4 0 0 0 22.6,0 v-4.2 z" fill="#d39d39" stroke="#4f3c1a" stroke-width="1.4" stroke-linejoin="round"/>
<ellipse cx="566.4" cy="506.0" rx="11.3" ry="6.4" fill="#f0c45c" stroke="#4f3c1a" stroke-width="1.4"/>
<ellipse cx="566.4" cy="506.0" rx="8.1" ry="4.6" fill="none" stroke="#d39d39" stroke-width="0.9" opacity="0.9"/>
<text x="566.4" y="509.7" font-size="10.7" fill="#c48a25" font-weight="700" text-anchor="middle" transform="translate(566.4 506.0) scale(1 0.65) translate(-566.4 -506.0)">$</text>
</g>
<g transform="matrix(-0.4958 0.8042 1.1455 0.2000 802.80 446.60)"><rect x="0" y="0" width="24" height="22" rx="1.2" fill="#b2dfca" stroke="#2b4f4a" stroke-width="1.25"/><rect x="2.2" y="2.2" width="19.6" height="17.6" rx="0.8" fill="none" stroke="#e6f6ec" stroke-width="1.1"/><ellipse cx="12" cy="11" rx="6.6" ry="6.2" fill="#5fae93"/><circle cx="5.5" cy="11" r="1.3" fill="#5fae93"/><circle cx="18.5" cy="11" r="1.3" fill="#5fae93"/></g>
<g transform="matrix(-0.5481 0.8259 1.1000 0.3217 893.30 455.50)"><rect x="0" y="0" width="27" height="23" rx="1.2" fill="#b2dfca" stroke="#2b4f4a" stroke-width="1.25"/><rect x="2.2" y="2.2" width="22.6" height="18.6" rx="0.8" fill="none" stroke="#e6f6ec" stroke-width="1.1"/><ellipse cx="13.5" cy="11.5" rx="6.9" ry="6.4" fill="#5fae93"/><circle cx="5.5" cy="11.5" r="1.3" fill="#5fae93"/><circle cx="21.5" cy="11.5" r="1.3" fill="#5fae93"/></g>
<g transform="rotate(20.0 721.0 446.5)">
<path d="M711.0,446.5 v0.0 a10.0,12.0 0 0 0 20.0,0 v0.0 z" fill="#d39d39" stroke="#4f3c1a" stroke-width="1.4" stroke-linejoin="round"/>
<ellipse cx="721.0" cy="446.5" rx="10.0" ry="12.0" fill="#f0c45c" stroke="#4f3c1a" stroke-width="1.4"/>
<ellipse cx="721.0" cy="446.5" rx="7.2" ry="8.6" fill="none" stroke="#d39d39" stroke-width="0.9" opacity="0.9"/>
<text x="721.0" y="449.8" font-size="9.5" fill="#c48a25" font-weight="700" text-anchor="middle" transform="translate(721.0 446.5) scale(1 1.38) translate(-721.0 -446.5)">$</text>
</g>
<g transform="rotate(0.0 702.0 469.5)">
<path d="M691.3,469.5 v4.0 a10.7,6.0 0 0 0 21.4,0 v-4.0 z" fill="#d39d39" stroke="#4f3c1a" stroke-width="1.4" stroke-linejoin="round"/>
<ellipse cx="702.0" cy="469.5" rx="10.7" ry="6.0" fill="#f0c45c" stroke="#4f3c1a" stroke-width="1.4"/>
<ellipse cx="702.0" cy="469.5" rx="7.7" ry="4.3" fill="none" stroke="#d39d39" stroke-width="0.9" opacity="0.9"/>
<text x="702.0" y="473.0" font-size="10.2" fill="#c48a25" font-weight="700" text-anchor="middle" transform="translate(702.0 469.5) scale(1 0.64) translate(-702.0 -469.5)">$</text>
</g>
<g transform="rotate(0.0 734.6 470.5)">
<path d="M723.9,470.5 v4.0 a10.7,6.0 0 0 0 21.4,0 v-4.0 z" fill="#d39d39" stroke="#4f3c1a" stroke-width="1.4" stroke-linejoin="round"/>
<ellipse cx="734.6" cy="470.5" rx="10.7" ry="6.0" fill="#f0c45c" stroke="#4f3c1a" stroke-width="1.4"/>
<ellipse cx="734.6" cy="470.5" rx="7.7" ry="4.3" fill="none" stroke="#d39d39" stroke-width="0.9" opacity="0.9"/>
<text x="734.6" y="474.0" font-size="10.2" fill="#c48a25" font-weight="700" text-anchor="middle" transform="translate(734.6 470.5) scale(1 0.64) translate(-734.6 -470.5)">$</text>
</g>
<g transform="rotate(0.0 749.0 476.5)">
<path d="M738.3,476.5 v4.0 a10.7,6.0 0 0 0 21.4,0 v-4.0 z" fill="#d39d39" stroke="#4f3c1a" stroke-width="1.4" stroke-linejoin="round"/>
<ellipse cx="749.0" cy="476.5" rx="10.7" ry="6.0" fill="#f0c45c" stroke="#4f3c1a" stroke-width="1.4"/>
<ellipse cx="749.0" cy="476.5" rx="7.7" ry="4.3" fill="none" stroke="#d39d39" stroke-width="0.9" opacity="0.9"/>
<text x="749.0" y="480.0" font-size="10.2" fill="#c48a25" font-weight="700" text-anchor="middle" transform="translate(749.0 476.5) scale(1 0.64) translate(-749.0 -476.5)">$</text>
</g>
<g transform="rotate(0.0 820.0 489.0)">
<path d="M809.3,489.0 v4.0 a10.7,6.0 0 0 0 21.4,0 v-4.0 z" fill="#d39d39" stroke="#4f3c1a" stroke-width="1.4" stroke-linejoin="round"/>
<ellipse cx="820.0" cy="489.0" rx="10.7" ry="6.0" fill="#f0c45c" stroke="#4f3c1a" stroke-width="1.4"/>
<ellipse cx="820.0" cy="489.0" rx="7.7" ry="4.3" fill="none" stroke="#d39d39" stroke-width="0.9" opacity="0.9"/>
<text x="820.0" y="492.5" font-size="10.2" fill="#c48a25" font-weight="700" text-anchor="middle" transform="translate(820.0 489.0) scale(1 0.64) translate(-820.0 -489.0)">$</text>
</g>
<g transform="rotate(0.0 841.5 489.0)">
<path d="M830.8,489.0 v4.0 a10.7,6.0 0 0 0 21.4,0 v-4.0 z" fill="#d39d39" stroke="#4f3c1a" stroke-width="1.4" stroke-linejoin="round"/>
<ellipse cx="841.5" cy="489.0" rx="10.7" ry="6.0" fill="#f0c45c" stroke="#4f3c1a" stroke-width="1.4"/>
<ellipse cx="841.5" cy="489.0" rx="7.7" ry="4.3" fill="none" stroke="#d39d39" stroke-width="0.9" opacity="0.9"/>
<text x="841.5" y="492.5" font-size="10.2" fill="#c48a25" font-weight="700" text-anchor="middle" transform="translate(841.5 489.0) scale(1 0.64) translate(-841.5 -489.0)">$</text>
</g>
<g transform="rotate(0.0 874.0 496.0)">
<path d="M863.3,496.0 v4.0 a10.7,6.0 0 0 0 21.4,0 v-4.0 z" fill="#d39d39" stroke="#4f3c1a" stroke-width="1.4" stroke-linejoin="round"/>
<ellipse cx="874.0" cy="496.0" rx="10.7" ry="6.0" fill="#f0c45c" stroke="#4f3c1a" stroke-width="1.4"/>
<ellipse cx="874.0" cy="496.0" rx="7.7" ry="4.3" fill="none" stroke="#d39d39" stroke-width="0.9" opacity="0.9"/>
<text x="874.0" y="499.5" font-size="10.2" fill="#c48a25" font-weight="700" text-anchor="middle" transform="translate(874.0 496.0) scale(1 0.64) translate(-874.0 -496.0)">$</text>
</g>
<g transform="matrix(0.9659 0.2500 -0.2222 0.8056 843.50 506.50)"><rect x="0" y="0" width="44" height="18" rx="1.2" fill="#b2dfca" stroke="#2b4f4a" stroke-width="1.25"/><rect x="2.2" y="2.2" width="39.6" height="13.6" rx="0.8" fill="none" stroke="#e6f6ec" stroke-width="1.1"/><ellipse cx="22" cy="9" rx="5.4" ry="5.0" fill="#5fae93"/><circle cx="5.5" cy="9" r="1.3" fill="#5fae93"/><circle cx="38.5" cy="9" r="1.3" fill="#5fae93"/></g>
<g transform="matrix(0.8587 0.4022 -0.3889 0.8056 797.00 521.00)"><rect x="0" y="0" width="46" height="18" rx="1.2" fill="#b2dfca" stroke="#2b4f4a" stroke-width="1.25"/><rect x="2.2" y="2.2" width="41.6" height="13.6" rx="0.8" fill="none" stroke="#e6f6ec" stroke-width="1.1"/><ellipse cx="23" cy="9" rx="5.4" ry="5.0" fill="#5fae93"/><circle cx="5.5" cy="9" r="1.3" fill="#5fae93"/><circle cx="40.5" cy="9" r="1.3" fill="#5fae93"/></g>
<g transform="matrix(0.7474 -0.5395 0.5222 0.8889 956.60 455.00)"><rect x="0" y="0" width="38" height="18" rx="1.2" fill="#b2dfca" stroke="#2b4f4a" stroke-width="1.25"/><rect x="2.2" y="2.2" width="33.6" height="13.6" rx="0.8" fill="none" stroke="#e6f6ec" stroke-width="1.1"/><ellipse cx="19" cy="9" rx="5.4" ry="5.0" fill="#5fae93"/><circle cx="5.5" cy="9" r="1.3" fill="#5fae93"/><circle cx="32.5" cy="9" r="1.3" fill="#5fae93"/></g>
<g transform="rotate(35.0 966.0 415.0)">
<path d="M956.5,415.0 v3.0 a9.5,8.0 0 0 0 19.0,0 v-3.0 z" fill="#d39d39" stroke="#4f3c1a" stroke-width="1.4" stroke-linejoin="round"/>
<ellipse cx="966.0" cy="415.0" rx="9.5" ry="8.0" fill="#f0c45c" stroke="#4f3c1a" stroke-width="1.4"/>
<ellipse cx="966.0" cy="415.0" rx="6.8" ry="5.8" fill="none" stroke="#d39d39" stroke-width="0.9" opacity="0.9"/>
<text x="966.0" y="418.1" font-size="9.0" fill="#c48a25" font-weight="700" text-anchor="middle" transform="translate(966.0 415.0) scale(1 0.97) translate(-966.0 -415.0)">$</text>
</g>
<ellipse cx="925" cy="535" rx="85" ry="62" fill="url(#cg)"/>
<ellipse cx="900" cy="610" rx="95" ry="28" fill="url(#cg)" opacity="0.8"/>
<rect x="905" y="478" width="2.5" height="52" fill="url(#ray)"/>
<rect x="918" y="470" width="3.5" height="58" fill="url(#ray)"/>
<rect x="932" y="482" width="2" height="46" fill="url(#ray)"/>
<rect x="950" y="488" width="3" height="40" fill="url(#ray)"/>
<rect x="963" y="492" width="2" height="38" fill="url(#ray)"/>
<rect x="940" y="475" width="1.5" height="53" fill="url(#ray)"/>
<g transform="rotate(0.0 958.0 529.0)">
<path d="M941.0,572.4 v6.2 a17.0,9.0 0 0 0 34.0,0 v-6.2 z" fill="#8fbde8" stroke="#1f406f" stroke-width="1.1" stroke-linejoin="round"/>
<path d="M942.0,574.0 a16.0,9.0 0 0 0 32.0,0" fill="none" stroke="#cfe6f8" stroke-width="1" opacity="0.7"/>
<path d="M941.0,566.2 v6.2 a17.0,9.0 0 0 0 34.0,0 v-6.2 z" fill="#8fbde8" stroke="#1f406f" stroke-width="1.1" stroke-linejoin="round"/>
<path d="M942.0,567.8 a16.0,9.0 0 0 0 32.0,0" fill="none" stroke="#cfe6f8" stroke-width="1" opacity="0.7"/>
<path d="M941.0,560.0 v6.2 a17.0,9.0 0 0 0 34.0,0 v-6.2 z" fill="#8fbde8" stroke="#1f406f" stroke-width="1.1" stroke-linejoin="round"/>
<path d="M942.0,561.6 a16.0,9.0 0 0 0 32.0,0" fill="none" stroke="#cfe6f8" stroke-width="1" opacity="0.7"/>
<path d="M941.0,553.8 v6.2 a17.0,9.0 0 0 0 34.0,0 v-6.2 z" fill="#8fbde8" stroke="#1f406f" stroke-width="1.1" stroke-linejoin="round"/>
<path d="M942.0,555.4 a16.0,9.0 0 0 0 32.0,0" fill="none" stroke="#cfe6f8" stroke-width="1" opacity="0.7"/>
<path d="M941.0,547.6 v6.2 a17.0,9.0 0 0 0 34.0,0 v-6.2 z" fill="#8fbde8" stroke="#1f406f" stroke-width="1.1" stroke-linejoin="round"/>
<path d="M942.0,549.2 a16.0,9.0 0 0 0 32.0,0" fill="none" stroke="#cfe6f8" stroke-width="1" opacity="0.7"/>
<path d="M941.0,541.4 v6.2 a17.0,9.0 0 0 0 34.0,0 v-6.2 z" fill="#8fbde8" stroke="#1f406f" stroke-width="1.1" stroke-linejoin="round"/>
<path d="M942.0,543.0 a16.0,9.0 0 0 0 32.0,0" fill="none" stroke="#cfe6f8" stroke-width="1" opacity="0.7"/>
<path d="M941.0,535.2 v6.2 a17.0,9.0 0 0 0 34.0,0 v-6.2 z" fill="#8fbde8" stroke="#1f406f" stroke-width="1.1" stroke-linejoin="round"/>
<path d="M942.0,536.8 a16.0,9.0 0 0 0 32.0,0" fill="none" stroke="#cfe6f8" stroke-width="1" opacity="0.7"/>
<path d="M941.0,529.0 v6.2 a17.0,9.0 0 0 0 34.0,0 v-6.2 z" fill="#8fbde8" stroke="#1f406f" stroke-width="1.1" stroke-linejoin="round"/>
<path d="M942.0,530.6 a16.0,9.0 0 0 0 32.0,0" fill="none" stroke="#cfe6f8" stroke-width="1" opacity="0.7"/>
<ellipse cx="958.0" cy="529.0" rx="17.0" ry="9.0" fill="#c3e0f4" stroke="#1f406f" stroke-width="1.3"/>
<ellipse cx="958.0" cy="529.0" rx="13.3" ry="6.8" fill="#a3cdec" stroke="#8fbde8" stroke-width="0.9" opacity="0.9"/>
</g>
<g transform="rotate(0.0 952.0 557.0)">
<path d="M938.0,593.0 v6.0 a14.0,7.5 0 0 0 28.0,0 v-6.0 z" fill="#7db1e2" stroke="#1f406f" stroke-width="1.1" stroke-linejoin="round"/>
<path d="M939.0,594.6 a13.0,7.5 0 0 0 26.0,0" fill="none" stroke="#cfe6f8" stroke-width="1" opacity="0.7"/>
<path d="M938.0,587.0 v6.0 a14.0,7.5 0 0 0 28.0,0 v-6.0 z" fill="#7db1e2" stroke="#1f406f" stroke-width="1.1" stroke-linejoin="round"/>
<path d="M939.0,588.6 a13.0,7.5 0 0 0 26.0,0" fill="none" stroke="#cfe6f8" stroke-width="1" opacity="0.7"/>
<path d="M938.0,581.0 v6.0 a14.0,7.5 0 0 0 28.0,0 v-6.0 z" fill="#7db1e2" stroke="#1f406f" stroke-width="1.1" stroke-linejoin="round"/>
<path d="M939.0,582.6 a13.0,7.5 0 0 0 26.0,0" fill="none" stroke="#cfe6f8" stroke-width="1" opacity="0.7"/>
<path d="M938.0,575.0 v6.0 a14.0,7.5 0 0 0 28.0,0 v-6.0 z" fill="#7db1e2" stroke="#1f406f" stroke-width="1.1" stroke-linejoin="round"/>
<path d="M939.0,576.6 a13.0,7.5 0 0 0 26.0,0" fill="none" stroke="#cfe6f8" stroke-width="1" opacity="0.7"/>
<path d="M938.0,569.0 v6.0 a14.0,7.5 0 0 0 28.0,0 v-6.0 z" fill="#7db1e2" stroke="#1f406f" stroke-width="1.1" stroke-linejoin="round"/>
<path d="M939.0,570.6 a13.0,7.5 0 0 0 26.0,0" fill="none" stroke="#cfe6f8" stroke-width="1" opacity="0.7"/>
<path d="M938.0,563.0 v6.0 a14.0,7.5 0 0 0 28.0,0 v-6.0 z" fill="#7db1e2" stroke="#1f406f" stroke-width="1.1" stroke-linejoin="round"/>
<path d="M939.0,564.6 a13.0,7.5 0 0 0 26.0,0" fill="none" stroke="#cfe6f8" stroke-width="1" opacity="0.7"/>
<path d="M938.0,557.0 v6.0 a14.0,7.5 0 0 0 28.0,0 v-6.0 z" fill="#7db1e2" stroke="#1f406f" stroke-width="1.1" stroke-linejoin="round"/>
<path d="M939.0,558.6 a13.0,7.5 0 0 0 26.0,0" fill="none" stroke="#cfe6f8" stroke-width="1" opacity="0.7"/>
<ellipse cx="952.0" cy="557.0" rx="14.0" ry="7.5" fill="#c3e0f4" stroke="#1f406f" stroke-width="1.3"/>
<ellipse cx="952.0" cy="557.0" rx="10.9" ry="5.7" fill="#a3cdec" stroke="#7db1e2" stroke-width="0.9" opacity="0.9"/>
</g>
<g transform="rotate(0.0 887.0 546.5)">
<path d="M870.5,594.5 v6.0 a16.5,9.0 0 0 0 33.0,0 v-6.0 z" fill="#7db1e2" stroke="#1f406f" stroke-width="1.1" stroke-linejoin="round"/>
<path d="M871.5,596.1 a15.5,9.0 0 0 0 31.0,0" fill="none" stroke="#cfe6f8" stroke-width="1" opacity="0.7"/>
<path d="M870.5,588.5 v6.0 a16.5,9.0 0 0 0 33.0,0 v-6.0 z" fill="#7db1e2" stroke="#1f406f" stroke-width="1.1" stroke-linejoin="round"/>
<path d="M871.5,590.1 a15.5,9.0 0 0 0 31.0,0" fill="none" stroke="#cfe6f8" stroke-width="1" opacity="0.7"/>
<path d="M870.5,582.5 v6.0 a16.5,9.0 0 0 0 33.0,0 v-6.0 z" fill="#7db1e2" stroke="#1f406f" stroke-width="1.1" stroke-linejoin="round"/>
<path d="M871.5,584.1 a15.5,9.0 0 0 0 31.0,0" fill="none" stroke="#cfe6f8" stroke-width="1" opacity="0.7"/>
<path d="M870.5,576.5 v6.0 a16.5,9.0 0 0 0 33.0,0 v-6.0 z" fill="#7db1e2" stroke="#1f406f" stroke-width="1.1" stroke-linejoin="round"/>
<path d="M871.5,578.1 a15.5,9.0 0 0 0 31.0,0" fill="none" stroke="#cfe6f8" stroke-width="1" opacity="0.7"/>
<path d="M870.5,570.5 v6.0 a16.5,9.0 0 0 0 33.0,0 v-6.0 z" fill="#7db1e2" stroke="#1f406f" stroke-width="1.1" stroke-linejoin="round"/>
<path d="M871.5,572.1 a15.5,9.0 0 0 0 31.0,0" fill="none" stroke="#cfe6f8" stroke-width="1" opacity="0.7"/>
<path d="M870.5,564.5 v6.0 a16.5,9.0 0 0 0 33.0,0 v-6.0 z" fill="#7db1e2" stroke="#1f406f" stroke-width="1.1" stroke-linejoin="round"/>
<path d="M871.5,566.1 a15.5,9.0 0 0 0 31.0,0" fill="none" stroke="#cfe6f8" stroke-width="1" opacity="0.7"/>
<path d="M870.5,558.5 v6.0 a16.5,9.0 0 0 0 33.0,0 v-6.0 z" fill="#7db1e2" stroke="#1f406f" stroke-width="1.1" stroke-linejoin="round"/>
<path d="M871.5,560.1 a15.5,9.0 0 0 0 31.0,0" fill="none" stroke="#cfe6f8" stroke-width="1" opacity="0.7"/>
<path d="M870.5,552.5 v6.0 a16.5,9.0 0 0 0 33.0,0 v-6.0 z" fill="#7db1e2" stroke="#1f406f" stroke-width="1.1" stroke-linejoin="round"/>
<path d="M871.5,554.1 a15.5,9.0 0 0 0 31.0,0" fill="none" stroke="#cfe6f8" stroke-width="1" opacity="0.7"/>
<path d="M870.5,546.5 v6.0 a16.5,9.0 0 0 0 33.0,0 v-6.0 z" fill="#7db1e2" stroke="#1f406f" stroke-width="1.1" stroke-linejoin="round"/>
<path d="M871.5,548.1 a15.5,9.0 0 0 0 31.0,0" fill="none" stroke="#cfe6f8" stroke-width="1" opacity="0.7"/>
<ellipse cx="887.0" cy="546.5" rx="16.5" ry="9.0" fill="#c3e0f4" stroke="#1f406f" stroke-width="1.3"/>
<ellipse cx="887.0" cy="546.5" rx="12.9" ry="6.8" fill="#a3cdec" stroke="#7db1e2" stroke-width="0.9" opacity="0.9"/>
</g>
<g transform="rotate(0.0 921.0 529.0)">
<path d="M897.4,602.7 v6.7 a23.6,12.3 0 0 0 47.2,0 v-6.7 z" fill="#6aa5dc" stroke="#1f406f" stroke-width="1.1" stroke-linejoin="round"/>
<path d="M898.4,604.3 a22.6,12.3 0 0 0 45.2,0" fill="none" stroke="#cfe6f8" stroke-width="1" opacity="0.7"/>
<path d="M897.4,596.0 v6.7 a23.6,12.3 0 0 0 47.2,0 v-6.7 z" fill="#6aa5dc" stroke="#1f406f" stroke-width="1.1" stroke-linejoin="round"/>
<path d="M898.4,597.6 a22.6,12.3 0 0 0 45.2,0" fill="none" stroke="#cfe6f8" stroke-width="1" opacity="0.7"/>
<path d="M897.4,589.3 v6.7 a23.6,12.3 0 0 0 47.2,0 v-6.7 z" fill="#6aa5dc" stroke="#1f406f" stroke-width="1.1" stroke-linejoin="round"/>
<path d="M898.4,590.9 a22.6,12.3 0 0 0 45.2,0" fill="none" stroke="#cfe6f8" stroke-width="1" opacity="0.7"/>
<path d="M897.4,582.6 v6.7 a23.6,12.3 0 0 0 47.2,0 v-6.7 z" fill="#6aa5dc" stroke="#1f406f" stroke-width="1.1" stroke-linejoin="round"/>
<path d="M898.4,584.2 a22.6,12.3 0 0 0 45.2,0" fill="none" stroke="#cfe6f8" stroke-width="1" opacity="0.7"/>
<path d="M897.4,575.9 v6.7 a23.6,12.3 0 0 0 47.2,0 v-6.7 z" fill="#6aa5dc" stroke="#1f406f" stroke-width="1.1" stroke-linejoin="round"/>
<path d="M898.4,577.5 a22.6,12.3 0 0 0 45.2,0" fill="none" stroke="#cfe6f8" stroke-width="1" opacity="0.7"/>
<path d="M897.4,569.2 v6.7 a23.6,12.3 0 0 0 47.2,0 v-6.7 z" fill="#6aa5dc" stroke="#1f406f" stroke-width="1.1" stroke-linejoin="round"/>
<path d="M898.4,570.8 a22.6,12.3 0 0 0 45.2,0" fill="none" stroke="#cfe6f8" stroke-width="1" opacity="0.7"/>
<path d="M897.4,562.5 v6.7 a23.6,12.3 0 0 0 47.2,0 v-6.7 z" fill="url(#tealedge)" stroke="#1f406f" stroke-width="1.1" stroke-linejoin="round"/>
<path d="M898.4,564.1 a22.6,12.3 0 0 0 45.2,0" fill="none" stroke="#cfe6f8" stroke-width="1" opacity="0.7"/>
<path d="M897.4,555.8 v6.7 a23.6,12.3 0 0 0 47.2,0 v-6.7 z" fill="url(#tealedge)" stroke="#1f406f" stroke-width="1.1" stroke-linejoin="round"/>
<path d="M898.4,557.4 a22.6,12.3 0 0 0 45.2,0" fill="none" stroke="#cfe6f8" stroke-width="1" opacity="0.7"/>
<path d="M897.4,549.1 v6.7 a23.6,12.3 0 0 0 47.2,0 v-6.7 z" fill="url(#tealedge)" stroke="#1f406f" stroke-width="1.1" stroke-linejoin="round"/>
<path d="M898.4,550.7 a22.6,12.3 0 0 0 45.2,0" fill="none" stroke="#cfe6f8" stroke-width="1" opacity="0.7"/>
<path d="M897.4,542.4 v6.7 a23.6,12.3 0 0 0 47.2,0 v-6.7 z" fill="url(#tealedge)" stroke="#1f406f" stroke-width="1.1" stroke-linejoin="round"/>
<path d="M898.4,544.0 a22.6,12.3 0 0 0 45.2,0" fill="none" stroke="#cfe6f8" stroke-width="1" opacity="0.7"/>
<path d="M897.4,535.7 v6.7 a23.6,12.3 0 0 0 47.2,0 v-6.7 z" fill="url(#tealedge)" stroke="#1f406f" stroke-width="1.1" stroke-linejoin="round"/>
<path d="M898.4,537.3 a22.6,12.3 0 0 0 45.2,0" fill="none" stroke="#cfe6f8" stroke-width="1" opacity="0.7"/>
<path d="M897.4,529.0 v6.7 a23.6,12.3 0 0 0 47.2,0 v-6.7 z" fill="url(#tealedge)" stroke="#1f406f" stroke-width="1.1" stroke-linejoin="round"/>
<path d="M898.4,530.6 a22.6,12.3 0 0 0 45.2,0" fill="none" stroke="#cfe6f8" stroke-width="1" opacity="0.7"/>
<ellipse cx="921.0" cy="529.0" rx="23.6" ry="12.3" fill="#c3e0f4" stroke="#1f406f" stroke-width="1.3"/>
<ellipse cx="921.0" cy="529.0" rx="18.4" ry="9.3" fill="#a3cdec" stroke="#6aa5dc" stroke-width="0.9" opacity="0.9"/>
</g>
<g transform="rotate(0.0 850.0 572.0)">
<path d="M832.3,590.0 v6.0 a17.7,9.5 0 0 0 35.4,0 v-6.0 z" fill="#7db1e2" stroke="#1f406f" stroke-width="1.1" stroke-linejoin="round"/>
<path d="M833.3,591.6 a16.7,9.5 0 0 0 33.4,0" fill="none" stroke="#cfe6f8" stroke-width="1" opacity="0.7"/>
<path d="M832.3,584.0 v6.0 a17.7,9.5 0 0 0 35.4,0 v-6.0 z" fill="#7db1e2" stroke="#1f406f" stroke-width="1.1" stroke-linejoin="round"/>
<path d="M833.3,585.6 a16.7,9.5 0 0 0 33.4,0" fill="none" stroke="#cfe6f8" stroke-width="1" opacity="0.7"/>
<path d="M832.3,578.0 v6.0 a17.7,9.5 0 0 0 35.4,0 v-6.0 z" fill="#7db1e2" stroke="#1f406f" stroke-width="1.1" stroke-linejoin="round"/>
<path d="M833.3,579.6 a16.7,9.5 0 0 0 33.4,0" fill="none" stroke="#cfe6f8" stroke-width="1" opacity="0.7"/>
<path d="M832.3,572.0 v6.0 a17.7,9.5 0 0 0 35.4,0 v-6.0 z" fill="#7db1e2" stroke="#1f406f" stroke-width="1.1" stroke-linejoin="round"/>
<path d="M833.3,573.6 a16.7,9.5 0 0 0 33.4,0" fill="none" stroke="#cfe6f8" stroke-width="1" opacity="0.7"/>
<ellipse cx="850.0" cy="572.0" rx="17.7" ry="9.5" fill="#c3e0f4" stroke="#1f406f" stroke-width="1.3"/>
<ellipse cx="850.0" cy="572.0" rx="13.8" ry="7.2" fill="#a3cdec" stroke="#7db1e2" stroke-width="0.9" opacity="0.9"/>
</g>
<g transform="rotate(0.0 871.0 581.5)">
<path d="M853.0,603.5 v5.5 a18.0,9.5 0 0 0 36.0,0 v-5.5 z" fill="#d9a866" stroke="#4a3a20" stroke-width="1.1" stroke-linejoin="round"/>
<path d="M854.0,605.1 a17.0,9.5 0 0 0 34.0,0" fill="none" stroke="#cfe6f8" stroke-width="1" opacity="0.7"/>
<path d="M853.0,598.0 v5.5 a18.0,9.5 0 0 0 36.0,0 v-5.5 z" fill="#d9a866" stroke="#4a3a20" stroke-width="1.1" stroke-linejoin="round"/>
<path d="M854.0,599.6 a17.0,9.5 0 0 0 34.0,0" fill="none" stroke="#cfe6f8" stroke-width="1" opacity="0.7"/>
<path d="M853.0,592.5 v5.5 a18.0,9.5 0 0 0 36.0,0 v-5.5 z" fill="#d9a866" stroke="#4a3a20" stroke-width="1.1" stroke-linejoin="round"/>
<path d="M854.0,594.1 a17.0,9.5 0 0 0 34.0,0" fill="none" stroke="#cfe6f8" stroke-width="1" opacity="0.7"/>
<path d="M853.0,587.0 v5.5 a18.0,9.5 0 0 0 36.0,0 v-5.5 z" fill="#d9a866" stroke="#4a3a20" stroke-width="1.1" stroke-linejoin="round"/>
<path d="M854.0,588.6 a17.0,9.5 0 0 0 34.0,0" fill="none" stroke="#cfe6f8" stroke-width="1" opacity="0.7"/>
<path d="M853.0,581.5 v5.5 a18.0,9.5 0 0 0 36.0,0 v-5.5 z" fill="#d9a866" stroke="#4a3a20" stroke-width="1.1" stroke-linejoin="round"/>
<path d="M854.0,583.1 a17.0,9.5 0 0 0 34.0,0" fill="none" stroke="#cfe6f8" stroke-width="1" opacity="0.7"/>
<ellipse cx="871.0" cy="581.5" rx="18.0" ry="9.5" fill="#f0c98a" stroke="#4a3a20" stroke-width="1.3"/>
<ellipse cx="871.0" cy="581.5" rx="14.0" ry="7.2" fill="#f2cf8c" stroke="#d9a866" stroke-width="0.9" opacity="0.9"/>
</g>
<g transform="rotate(0.0 968.6 588.6)">
<path d="M951.6,606.0 v5.8 a17.0,8.7 0 0 0 34.0,0 v-5.8 z" fill="#7db1e2" stroke="#1f406f" stroke-width="1.1" stroke-linejoin="round"/>
<path d="M952.6,607.6 a16.0,8.7 0 0 0 32.0,0" fill="none" stroke="#cfe6f8" stroke-width="1" opacity="0.7"/>
<path d="M951.6,600.2 v5.8 a17.0,8.7 0 0 0 34.0,0 v-5.8 z" fill="#7db1e2" stroke="#1f406f" stroke-width="1.1" stroke-linejoin="round"/>
<path d="M952.6,601.8 a16.0,8.7 0 0 0 32.0,0" fill="none" stroke="#cfe6f8" stroke-width="1" opacity="0.7"/>
<path d="M951.6,594.4 v5.8 a17.0,8.7 0 0 0 34.0,0 v-5.8 z" fill="#7db1e2" stroke="#1f406f" stroke-width="1.1" stroke-linejoin="round"/>
<path d="M952.6,596.0 a16.0,8.7 0 0 0 32.0,0" fill="none" stroke="#cfe6f8" stroke-width="1" opacity="0.7"/>
<path d="M951.6,588.6 v5.8 a17.0,8.7 0 0 0 34.0,0 v-5.8 z" fill="#7db1e2" stroke="#1f406f" stroke-width="1.1" stroke-linejoin="round"/>
<path d="M952.6,590.2 a16.0,8.7 0 0 0 32.0,0" fill="none" stroke="#cfe6f8" stroke-width="1" opacity="0.7"/>
<ellipse cx="968.6" cy="588.6" rx="17.0" ry="8.7" fill="#c3e0f4" stroke="#1f406f" stroke-width="1.3"/>
<ellipse cx="968.6" cy="588.6" rx="13.3" ry="6.6" fill="#a3cdec" stroke="#7db1e2" stroke-width="0.9" opacity="0.9"/>
</g>
<g transform="rotate(-35.0 840.8 606.0)">
<path d="M824.3,606.0 v5.0 a16.5,10.0 0 0 0 33.0,0 v-5.0 z" fill="#7db1e2" stroke="#1f406f" stroke-width="1.1" stroke-linejoin="round"/>
<path d="M825.3,607.6 a15.5,10.0 0 0 0 31.0,0" fill="none" stroke="#cfe6f8" stroke-width="1" opacity="0.7"/>
<ellipse cx="840.8" cy="606.0" rx="16.5" ry="10.0" fill="#c3e0f4" stroke="#1f406f" stroke-width="1.3"/>
<ellipse cx="840.8" cy="606.0" rx="12.9" ry="7.6" fill="#a3cdec" stroke="#7db1e2" stroke-width="0.9" opacity="0.9"/>
</g>
<path d="M978.6,617.8 Q980.69,634.71 997.6,636.8 Q980.69,638.89 978.6,655.8 Q976.51,638.89 959.6,636.8 Q976.51,634.71 978.6,617.8 Z" fill="#f6fbff" opacity="0.62"/>
<g>
<rect x="86.5" y="238.3" width="58.2" height="43" rx="3.5" fill="#e9f2fb" stroke="#2f5f9f" stroke-width="1.6"/>
<path d="M86.5,247.8 V241.8 a3.5,3.5 0 0 1 3.5,-3.5 h51.2 a3.5,3.5 0 0 1 3.5,3.5 V247.8 Z" fill="#3f79c0" stroke="#2f5f9f" stroke-width="1.6"/>
<circle cx="91.5" cy="243.2" r="1.1" fill="#dbe9f8"/>
<circle cx="95.3" cy="243.2" r="1.1" fill="#dbe9f8"/>
<circle cx="99.1" cy="243.2" r="1.1" fill="#dbe9f8"/>
<text x="115.4" y="271.6" font-size="22.5" fill="#2b4f88" font-weight="700" text-anchor="middle" textLength="46.5" lengthAdjust="spacingAndGlyphs">ASP</text>
</g>
<circle cx="199.4" cy="258.8" r="18.3" fill="#3f82c5"/>
<path d="M190.5,258.8 L197,265.2 L209.3,252.2" fill="none" stroke="#fff" stroke-width="4.3" stroke-linecap="round" stroke-linejoin="round"/>
<g stroke-linejoin="round" stroke-linecap="round">
<path d="M259.5,256 L258.2,236 Q258.5,230.5 263,231.5 Q268,234 270.5,243 L272,256 Z" fill="#e9a957" stroke="#6a4a22" stroke-width="1.1"/>
<path d="M262,238 l3,-1 M263,243 l4,-1.3 M264,248 l4.5,-1.3" stroke="#b87a32" stroke-width="0.9" fill="none"/>
<rect x="272.5" y="238" width="13" height="20" rx="3" fill="#6cc7bf" stroke="#25605c" stroke-width="1.1"/><rect x="274" y="235" width="10" height="4" rx="1" fill="#4aa8a0" stroke="#25605c" stroke-width="1"/>
<rect x="288.5" y="242" width="10.5" height="17" rx="3" fill="#7cc0ee" stroke="#2a5a8a" stroke-width="1.1"/><rect x="291.5" y="236.5" width="4.5" height="6" rx="1" fill="#5aa6de" stroke="#2a5a8a" stroke-width="1"/>
<rect x="280" y="246" width="9.5" height="13" rx="3" fill="#e8605a" stroke="#7a2622" stroke-width="1.1"/>
<rect x="268" y="252" width="9" height="9" rx="1.5" fill="#f0c04a" stroke="#7a5a18" stroke-width="1"/>
<path d="M257.5,250.5 H300.5 L297,269.5 H262.5 Z" fill="#dbeaf8" fill-opacity="0.28" stroke="#2f4a70" stroke-width="1.6"/>
<line x1="263.6" y1="250.5" x2="267.4" y2="269.5" stroke="#2f4a70" stroke-width="1"/>
<line x1="269.8" y1="250.5" x2="272.4" y2="269.5" stroke="#2f4a70" stroke-width="1"/>
<line x1="275.9" y1="250.5" x2="277.3" y2="269.5" stroke="#2f4a70" stroke-width="1"/>
<line x1="282.1" y1="250.5" x2="282.2" y2="269.5" stroke="#2f4a70" stroke-width="1"/>
<line x1="288.2" y1="250.5" x2="287.1" y2="269.5" stroke="#2f4a70" stroke-width="1"/>
<line x1="294.4" y1="250.5" x2="292.1" y2="269.5" stroke="#2f4a70" stroke-width="1"/>
<line x1="259.1" y1="256.5" x2="299.4" y2="256.5" stroke="#2f4a70" stroke-width="1"/>
<line x1="260.8" y1="263" x2="298.2" y2="263" stroke="#2f4a70" stroke-width="1"/>
<path d="M246,240.8 L252.5,242.5 L262.5,269.5 L264.5,276 H297" fill="none" stroke="#2f4a70" stroke-width="1.8"/>
<path d="M245.5,240.3 l5.5,1.5" stroke="#4a86c8" stroke-width="3.2"/>
<circle cx="266.5" cy="282.5" r="3.2" fill="#4a6a94" stroke="#2f4a70" stroke-width="1.3"/><circle cx="290.5" cy="282.5" r="3.2" fill="#4a6a94" stroke="#2f4a70" stroke-width="1.3"/>
</g>
<g stroke-linejoin="round" stroke-linecap="round">
<path d="M409,243 Q421,240.5 431,243.5 L446,240.5 L458,257 Q452,263 446,264 L436,277 Q431,280 428,276.5 Q424,279.5 421,275.5 Q417,277.5 415,273 Q410.5,273.5 410,268 L402,259.5 Z" fill="#f6c096" stroke="#4a2c1f" stroke-width="1.3"/>
<path d="M431,243.5 L420.5,250 Q417.5,253.5 421.5,254.5 Q427,254 431.5,250 L446,262.5" fill="#f6c096" stroke="#4a2c1f" stroke-width="1.3"/>
<path d="M415,273 L419.5,267.5 M421,275.5 L425.5,270 M428,276.5 L431.5,272 M410,268 L414,263.5 M436.5,256 L441.5,260.5" fill="none" stroke="#4a2c1f" stroke-width="1.2"/>
<polygon points="398.5,235 410,240.8 401.5,262 391,255.5" fill="#3f72b9" stroke="#223f6c" stroke-width="1.3"/>
<polygon points="447,239.5 458.5,234.5 466.5,254.5 456,260.5" fill="#3f9b62" stroke="#1f5a38" stroke-width="1.3"/>
</g>
<g transform="translate(514.3,256.6) rotate(-45)">
<path d="M-19,-14 H11 L21.5,-7.5 Q24.5,0 21.5,7.5 L11,14 H-19 Q-22.5,14 -22.5,10.5 V-10.5 Q-22.5,-14 -19,-14 Z" fill="#3f9f64" stroke="#1f5a38" stroke-width="1.5" stroke-linejoin="round"/>
<circle cx="16.5" cy="0" r="2.7" fill="#f3fbf5" stroke="#1f5a38" stroke-width="1"/>
</g>
<text x="513.5" y="261.8" font-size="14" fill="#f2fbf4" font-weight="700" text-anchor="middle">PR</text>
<g>
<polygon points="570.5,246.5 598.5,230.5 598.5,277 570.5,277" fill="#3f6d9e"/>
<path d="M575.5,249 V277 M581,254 V277" stroke="#eef4fa" stroke-width="2.2"/>
<path d="M581,245.5 L595,237.5 M581,252.5 L595,244.5 M581,259.5 L595,251.5" stroke="#eef4fa" stroke-width="2.6"/>
<path d="M587,256 V277" stroke="#eef4fa" stroke-width="2.2"/>
<polygon points="600.5,246.5 614.5,254 614.5,277 600.5,277" fill="#3f6d9e"/>
<path d="M604.5,253 V277 M608.3,255 V277 M612,257 V277" stroke="#dfeaf5" stroke-width="1.1"/>
<rect x="567" y="277" width="51" height="3.4" fill="#3f6d9e"/>
</g>
<rect x="701.3" y="231.6" width="38.4" height="51" rx="4" fill="#4d525c" stroke="#2a2d33" stroke-width="1.2"/>
<rect x="706" y="238" width="29" height="38" rx="1" fill="#f6f8fb"/>
<rect x="709" y="241" width="23.2" height="11.6" fill="#5c9bdc"/>
<rect x="709" y="255.5" width="6.6" height="7" fill="#5c9bdc"/><rect x="709" y="265.5" width="6.6" height="7" fill="#5c9bdc"/>
<path d="M718,257 h14 M718,260.5 h11 M718,267 h14 M718,270.5 h11" stroke="#a9b4c2" stroke-width="1.3"/>
<circle cx="720.5" cy="234.8" r="0.9" fill="#15171a"/><circle cx="720.5" cy="279.4" r="1.3" fill="#23262b"/>
<path d="M761.5,237.4 H779 L788,246.5 V274 a3,3 0 0 1 -3,3 H761.5 a3,3 0 0 1 -3,-3 V240.4 a3,3 0 0 1 3,-3 Z" fill="#e3e5ea" stroke="#5a5d66" stroke-width="1.2" stroke-linejoin="round"/>
<path d="M779,237.4 L788,246.5 H781.5 a2.5,2.5 0 0 1 -2.5,-2.5 Z" fill="#e4473a" stroke="#8a231c" stroke-width="1" stroke-linejoin="round"/>
<rect x="754.5" y="254.8" width="27" height="12" rx="2.5" fill="#e4473a" stroke="#9a2b22" stroke-width="0.8"/>
<text x="768" y="264.3" font-size="9.5" fill="#fff" font-weight="700" text-anchor="middle" textLength="20" lengthAdjust="spacingAndGlyphs">PDF</text>
<rect x="813" y="245.8" width="40.5" height="33" rx="3" fill="#4fbfa6" stroke="#1d4a44" stroke-width="1.2"/>
<rect x="808.6" y="241.5" width="40.5" height="33" rx="3" fill="#4fbfa6" stroke="#1d4a44" stroke-width="1.2"/>
<rect x="804.3" y="237.2" width="40.5" height="33" rx="3" fill="#3faf95" stroke="#1d4a44" stroke-width="1.3"/>
<path d="M806,241.8 H843" stroke="#1d4a44" stroke-width="0.9"/>
<rect x="807.5" y="238.6" width="1.6" height="2" fill="#1d4a44"/>
<rect x="811.5" y="238.6" width="1.6" height="2" fill="#1d4a44"/>
<rect x="815.5" y="238.6" width="1.6" height="2" fill="#1d4a44"/>
<rect x="819.5" y="238.6" width="1.6" height="2" fill="#1d4a44"/>
<rect x="823.5" y="238.6" width="1.6" height="2" fill="#1d4a44"/>
<rect x="827.5" y="238.6" width="1.6" height="2" fill="#1d4a44"/>
<rect x="831.5" y="238.6" width="1.6" height="2" fill="#1d4a44"/>
<rect x="835.5" y="238.6" width="1.6" height="2" fill="#1d4a44"/>
<rect x="839.5" y="238.6" width="1.6" height="2" fill="#1d4a44"/>
<rect x="804.9" y="262.5" width="39.3" height="7" fill="#2c6e63"/><path d="M808,266 H841" stroke="#173c37" stroke-width="1.2"/><circle cx="816" cy="266" r="1.4" fill="#e4473a"/>
<circle cx="824.3" cy="251.6" r="6.6" fill="#e4473a" stroke="#7a1f18" stroke-width="1.1"/><circle cx="824.3" cy="251.6" r="4" fill="none" stroke="#fbe3df" stroke-width="0.9"/><polygon points="822.9,249.2 827,251.6 822.9,254" fill="#fff"/>
<path d="M868.4,255 V274 L870.8,276.3 L873.2,274 V271.8 L875.8,270.3 L873.2,268.8 V266.6 L875.8,265.2 L873.2,263.8 V255 Z" fill="#f0b840" stroke="#5a4012" stroke-width="1.2" stroke-linejoin="round"/>
<circle cx="870.8" cy="248" r="9" fill="#f0b840" stroke="#5a4012" stroke-width="1.3"/><circle cx="870.8" cy="244.3" r="2.6" fill="#fdf6e3" stroke="#5a4012" stroke-width="1.1"/>
<path d="M902.5,236 H913 a2.6,2.6 0 0 1 2.6,2.6 V253 a2.6,2.6 0 0 1 -2.6,2.6 H899.5 a2.6,2.6 0 0 1 -2.6,-2.6 V241.6 Z" fill="#41c9b4"/>
<path d="M904.8,240.2 H911.2 V251.5 H901 V244 H904.8 Z" fill="#fdfaf0"/>
<text x="948" y="252.3" font-size="19" fill="#141414" font-weight="700" text-anchor="middle" textLength="46.5" lengthAdjust="spacing">note</text>
<path d="M896,276.5 Q899.5,270 903,263.5 Q900,272.5 902,276.5 Q904.5,280.5 909,272 Q912,266 913.5,262 Q911.5,270 912.5,274.5 Q914,278.5 918.5,274.5" fill="none" stroke="#e0484f" stroke-width="3.4" stroke-linecap="round" stroke-linejoin="round"/>
<text x="947.5" y="277.3" font-size="14.5" fill="#6b565f" font-weight="700" text-anchor="middle" textLength="46" lengthAdjust="spacingAndGlyphs">Udemy</text>
<rect x="95" y="612" width="188" height="50" rx="10" fill="#fff" opacity="0.7" filter="url(#glow)"/>
<rect x="445" y="552" width="127" height="26" rx="10" fill="#fff" opacity="0.55" filter="url(#glow)"/>
<rect x="395" y="584" width="233" height="32" rx="10" fill="#fff" opacity="0.45" filter="url(#glow)"/>
<rect x="408" y="632" width="207" height="25" rx="10" fill="#fff" opacity="0.6" filter="url(#glow)"/>
<rect x="738" y="633" width="212" height="26" rx="10" fill="#fff" opacity="0.7" filter="url(#glow)"/>
<text x="511.5" y="66.0" font-size="42.5" fill="#161616" font-weight="700" text-anchor="middle" textLength="208.8" lengthAdjust="spacingAndGlyphs" >成長段階別</text>
<text y="116.2" font-size="41" fill="#161616" font-weight="700"><tspan x="169" textLength="208" lengthAdjust="spacingAndGlyphs">Instagram</tspan><tspan x="379" textLength="476" lengthAdjust="spacingAndGlyphs">収益化ポートフォリオ戦略</tspan></text>
<text x="120.5" y="179.9" font-size="25.5" fill="#ffffff" font-weight="700" text-anchor="middle" textLength="99.3" lengthAdjust="spacingAndGlyphs" >初心者期</text>
<text x="242.0" y="179.6" font-size="22" fill="#ffffff" font-weight="500" text-anchor="middle" textLength="134.0" lengthAdjust="spacingAndGlyphs" stroke="#fff" stroke-width="0.45">(1000人未満)</text>
<text x="428.5" y="179.9" font-size="25.5" fill="#ffffff" font-weight="700" text-anchor="middle" textLength="99.3" lengthAdjust="spacingAndGlyphs" >中級者期</text>
<text x="563.0" y="179.6" font-size="22" fill="#ffffff" font-weight="500" text-anchor="middle" textLength="164.0" lengthAdjust="spacingAndGlyphs" stroke="#fff" stroke-width="0.45">(1000〜5000人)</text>
<text x="771.2" y="179.9" font-size="25.5" fill="#ffffff" font-weight="700" text-anchor="middle" textLength="100.8" lengthAdjust="spacingAndGlyphs" >上級者期</text>
<text x="883.0" y="179.6" font-size="22" fill="#ffffff" font-weight="500" text-anchor="middle" textLength="116.0" lengthAdjust="spacingAndGlyphs" stroke="#fff" stroke-width="0.45">(1万人以上)</text>
<text x="191.0" y="219.0" font-size="19" fill="#161616" font-weight="700" text-anchor="middle" textLength="285.7" lengthAdjust="spacingAndGlyphs" >モノを売るスキルを身につける期間</text>
<text x="512.5" y="219.0" font-size="19" fill="#161616" font-weight="700" text-anchor="middle" textLength="178.7" lengthAdjust="spacingAndGlyphs" >リスクなく収入を分散</text>
<text x="833.5" y="219.0" font-size="19" fill="#161616" font-weight="700" text-anchor="middle" textLength="178.7" lengthAdjust="spacingAndGlyphs" >安定した3本柱の完成</text>
<text x="108.0" y="307.6" font-size="15" fill="#161616" font-weight="700" text-anchor="middle" textLength="103.3" lengthAdjust="spacingAndGlyphs" >他社商品を紹介</text>
<text x="199.8" y="307.6" font-size="15" fill="#161616" font-weight="700" text-anchor="middle" textLength="57.9" lengthAdjust="spacingAndGlyphs" >在庫なし</text>
<text x="278.5" y="307.6" font-size="15" fill="#161616" font-weight="700" text-anchor="middle" textLength="54.4" lengthAdjust="spacingAndGlyphs" >低リスク</text>
<text x="428.5" y="304.1" font-size="15" fill="#161616" font-weight="700" text-anchor="middle" textLength="60.4" lengthAdjust="spacingAndGlyphs" >固定報酬</text>
<text x="581.5" y="301.7" font-size="15.5" fill="#161616" font-weight="700" text-anchor="middle" textLength="94.4" lengthAdjust="spacingAndGlyphs" >フォロワー数・</text>
<text x="580.2" y="320.2" font-size="15.5" fill="#161616" font-weight="700" text-anchor="middle" textLength="140.9" lengthAdjust="spacingAndGlyphs" >エンゲージメント必要</text>
<text x="742.5" y="304.4" font-size="14.5" fill="#161616" font-weight="700" text-anchor="middle" textLength="106.3" lengthAdjust="spacingAndGlyphs" >知識・ノウハウ販売</text>
<text x="841.8" y="304.4" font-size="14.5" fill="#161616" font-weight="700" text-anchor="middle" textLength="75.8" lengthAdjust="spacingAndGlyphs" >原価ほぼゼロ</text>
<text x="933.0" y="304.4" font-size="14.5" fill="#161616" font-weight="700" text-anchor="middle" textLength="85.3" lengthAdjust="spacingAndGlyphs" >信頼が不可欠</text>
<text x="191.5" y="584.5" font-size="21.5" fill="#ffffff" font-weight="700" text-anchor="middle" textLength="203.9" lengthAdjust="spacingAndGlyphs" >アフィリエイト自販機</text>
<text x="188.8" y="632.0" font-size="21.5" fill="#161616" font-weight="700" text-anchor="middle" textLength="186.4" lengthAdjust="spacingAndGlyphs" >モノを売るスキルを</text>
<text x="186.0" y="658.0" font-size="21.5" fill="#161616" font-weight="700" text-anchor="middle" textLength="149.9" lengthAdjust="spacingAndGlyphs" >身につける期間</text>
<text x="508.5" y="573.6" font-size="26" fill="#161616" font-weight="700" text-anchor="middle" textLength="125.3" lengthAdjust="spacingAndGlyphs" >中級者件期</text>
<text y="608.2" font-size="31" fill="#161616" font-weight="700"><tspan x="390.5">(</tspan><tspan x="405" textLength="78" lengthAdjust="spacingAndGlyphs">1000</tspan><tspan x="481.5" textLength="30" lengthAdjust="spacingAndGlyphs">〜</tspan><tspan x="511.5" textLength="78" lengthAdjust="spacingAndGlyphs">5000</tspan><tspan x="591.5" textLength="28.5" lengthAdjust="spacingAndGlyphs">人</tspan><tspan x="621">)</tspan></text>
<text x="510.2" y="651.5" font-size="21.5" fill="#161616" font-weight="700" text-anchor="middle" textLength="211.4" lengthAdjust="spacingAndGlyphs" >リスクなく収入を分散</text>
<text x="844.2" y="653.8" font-size="22.5" fill="#161616" font-weight="700" text-anchor="middle" textLength="211.5" lengthAdjust="spacingAndGlyphs" >安定した3本柱の完成</text>
</svg>
</body></html>
